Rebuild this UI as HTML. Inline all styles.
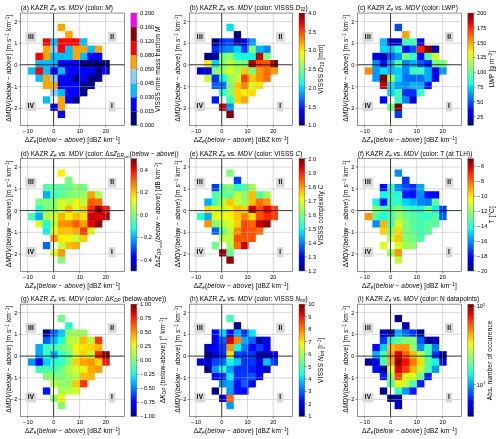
<!DOCTYPE html>
<html><head><meta charset="utf-8"><title>KAZR Ze vs MDV</title>
<style>html,body{margin:0;padding:0;background:#fff;}svg{display:block;will-change:transform;}text{font-family:"Liberation Sans",sans-serif;fill:#000;}.xl,.yl,.cl{letter-spacing:0.16px}.ttl{letter-spacing:0.04px}.ql{letter-spacing:0.3px}</style></head>
<body>
<svg width="500" height="439" viewBox="0 0 500 439" font-family="Liberation Sans, sans-serif">
<defs><linearGradient id="jet" x1="0" y1="1" x2="0" y2="0">
<stop offset="0.000" stop-color="#000080"/>
<stop offset="0.025" stop-color="#00009c"/>
<stop offset="0.050" stop-color="#0000b9"/>
<stop offset="0.075" stop-color="#0000d6"/>
<stop offset="0.100" stop-color="#0000f3"/>
<stop offset="0.125" stop-color="#0000ff"/>
<stop offset="0.150" stop-color="#0019ff"/>
<stop offset="0.175" stop-color="#0033ff"/>
<stop offset="0.200" stop-color="#004dff"/>
<stop offset="0.225" stop-color="#0066ff"/>
<stop offset="0.250" stop-color="#0080ff"/>
<stop offset="0.275" stop-color="#0099ff"/>
<stop offset="0.300" stop-color="#00b2ff"/>
<stop offset="0.325" stop-color="#00ccff"/>
<stop offset="0.350" stop-color="#00e5f7"/>
<stop offset="0.375" stop-color="#15ffe2"/>
<stop offset="0.400" stop-color="#29ffce"/>
<stop offset="0.425" stop-color="#3effb9"/>
<stop offset="0.450" stop-color="#52ffa5"/>
<stop offset="0.475" stop-color="#67ff90"/>
<stop offset="0.500" stop-color="#7bff7b"/>
<stop offset="0.525" stop-color="#90ff67"/>
<stop offset="0.550" stop-color="#a5ff52"/>
<stop offset="0.575" stop-color="#b9ff3e"/>
<stop offset="0.600" stop-color="#ceff29"/>
<stop offset="0.625" stop-color="#e2ff15"/>
<stop offset="0.650" stop-color="#f7f600"/>
<stop offset="0.675" stop-color="#ffde00"/>
<stop offset="0.700" stop-color="#ffc600"/>
<stop offset="0.725" stop-color="#ffaf00"/>
<stop offset="0.750" stop-color="#ff9700"/>
<stop offset="0.775" stop-color="#ff8000"/>
<stop offset="0.800" stop-color="#ff6800"/>
<stop offset="0.825" stop-color="#ff5000"/>
<stop offset="0.850" stop-color="#ff3900"/>
<stop offset="0.875" stop-color="#ff2100"/>
<stop offset="0.900" stop-color="#f30900"/>
<stop offset="0.925" stop-color="#d60000"/>
<stop offset="0.950" stop-color="#b90000"/>
<stop offset="0.975" stop-color="#9c0000"/>
<stop offset="1.000" stop-color="#800000"/>
</linearGradient></defs>
<rect width="500" height="439" fill="#fff"/>
<g>
<rect x="57.71" y="23.82" width="7.43" height="7.25" fill="#ffa500"/>
<rect x="65.14" y="31.07" width="7.43" height="7.75" fill="#ffa500"/>
<rect x="42.86" y="38.32" width="7.93" height="7.75" fill="#ff0000"/>
<rect x="50.28" y="38.32" width="7.93" height="7.75" fill="#00bfff"/>
<rect x="57.71" y="38.32" width="7.93" height="7.75" fill="#ff0000"/>
<rect x="65.14" y="38.32" width="7.93" height="7.75" fill="#ff0000"/>
<rect x="72.57" y="38.32" width="7.93" height="7.75" fill="#ff0000"/>
<rect x="80" y="38.32" width="7.43" height="7.75" fill="#00bfff"/>
<rect x="42.86" y="45.57" width="7.93" height="7.75" fill="#ffa500"/>
<rect x="50.28" y="45.57" width="7.93" height="7.75" fill="#87cefa"/>
<rect x="57.71" y="45.57" width="7.93" height="7.75" fill="#ff0000"/>
<rect x="65.14" y="45.57" width="7.93" height="7.75" fill="#00bfff"/>
<rect x="72.57" y="45.57" width="7.93" height="7.75" fill="#ffa500"/>
<rect x="80" y="45.57" width="7.93" height="7.75" fill="#ffa500"/>
<rect x="87.43" y="45.57" width="7.93" height="7.75" fill="#00bfff"/>
<rect x="94.86" y="45.57" width="7.43" height="7.75" fill="#ffa500"/>
<rect x="35.43" y="52.82" width="7.93" height="7.75" fill="#ff0000"/>
<rect x="42.86" y="52.82" width="7.93" height="7.75" fill="#ffa500"/>
<rect x="50.28" y="52.82" width="7.93" height="7.75" fill="#00bfff"/>
<rect x="57.71" y="52.82" width="7.93" height="7.75" fill="#00bfff"/>
<rect x="65.14" y="52.82" width="7.93" height="7.75" fill="#00bfff"/>
<rect x="72.57" y="52.82" width="7.93" height="7.75" fill="#ffa500"/>
<rect x="80" y="52.82" width="7.93" height="7.75" fill="#00bfff"/>
<rect x="87.43" y="52.82" width="7.93" height="7.75" fill="#0000ff"/>
<rect x="94.86" y="52.82" width="7.43" height="7.75" fill="#0000ff"/>
<rect x="35.43" y="60.07" width="7.93" height="7.75" fill="#00bfff"/>
<rect x="42.86" y="60.07" width="7.93" height="7.75" fill="#00bfff"/>
<rect x="50.28" y="60.07" width="7.93" height="7.75" fill="#00bfff"/>
<rect x="57.71" y="60.07" width="7.93" height="7.75" fill="#0000ff"/>
<rect x="65.14" y="60.07" width="7.93" height="7.75" fill="#0000ff"/>
<rect x="72.57" y="60.07" width="7.93" height="7.75" fill="#0000ff"/>
<rect x="80" y="60.07" width="7.93" height="7.75" fill="#000080"/>
<rect x="87.43" y="60.07" width="7.93" height="7.75" fill="#000080"/>
<rect x="94.86" y="60.07" width="7.93" height="7.75" fill="#000080"/>
<rect x="102.28" y="60.07" width="7.43" height="7.75" fill="#000080"/>
<rect x="28" y="67.32" width="7.93" height="7.25" fill="#00bfff"/>
<rect x="35.43" y="67.32" width="7.93" height="7.75" fill="#ff0000"/>
<rect x="42.86" y="67.32" width="7.93" height="7.75" fill="#00bfff"/>
<rect x="50.28" y="67.32" width="7.93" height="7.75" fill="#0000ff"/>
<rect x="57.71" y="67.32" width="7.93" height="7.75" fill="#00bfff"/>
<rect x="65.14" y="67.32" width="7.93" height="7.75" fill="#0000ff"/>
<rect x="72.57" y="67.32" width="7.93" height="7.75" fill="#0000ff"/>
<rect x="80" y="67.32" width="7.93" height="7.75" fill="#0000ff"/>
<rect x="87.43" y="67.32" width="7.93" height="7.75" fill="#0000ff"/>
<rect x="94.86" y="67.32" width="7.93" height="7.75" fill="#000080"/>
<rect x="102.28" y="67.32" width="7.43" height="7.25" fill="#0000ff"/>
<rect x="35.43" y="74.57" width="7.93" height="7.25" fill="#00bfff"/>
<rect x="42.86" y="74.57" width="7.93" height="7.75" fill="#ffa500"/>
<rect x="50.28" y="74.57" width="7.93" height="7.75" fill="#87cefa"/>
<rect x="57.71" y="74.57" width="7.93" height="7.75" fill="#0000ff"/>
<rect x="65.14" y="74.57" width="7.93" height="7.75" fill="#0000ff"/>
<rect x="72.57" y="74.57" width="7.93" height="7.75" fill="#000080"/>
<rect x="80" y="74.57" width="7.93" height="7.75" fill="#0000ff"/>
<rect x="87.43" y="74.57" width="7.93" height="7.75" fill="#000080"/>
<rect x="94.86" y="74.57" width="7.43" height="7.25" fill="#000080"/>
<rect x="42.86" y="81.82" width="7.93" height="7.25" fill="#ffa500"/>
<rect x="50.28" y="81.82" width="7.93" height="7.75" fill="#ffa500"/>
<rect x="57.71" y="81.82" width="7.93" height="7.75" fill="#0000ff"/>
<rect x="65.14" y="81.82" width="7.93" height="7.75" fill="#0000ff"/>
<rect x="72.57" y="81.82" width="7.93" height="7.75" fill="#0000ff"/>
<rect x="80" y="81.82" width="7.93" height="7.75" fill="#000080"/>
<rect x="87.43" y="81.82" width="7.43" height="7.25" fill="#000080"/>
<rect x="50.28" y="89.07" width="7.93" height="7.25" fill="#87cefa"/>
<rect x="57.71" y="89.07" width="7.93" height="7.75" fill="#00bfff"/>
<rect x="65.14" y="89.07" width="7.93" height="7.75" fill="#0000ff"/>
<rect x="72.57" y="89.07" width="7.93" height="7.75" fill="#0000ff"/>
<rect x="80" y="89.07" width="7.43" height="7.25" fill="#000080"/>
<rect x="42.86" y="96.32" width="7.43" height="7.25" fill="#00bfff"/>
<rect x="57.71" y="96.32" width="7.93" height="7.75" fill="#ffa500"/>
<rect x="65.14" y="96.32" width="7.93" height="7.25" fill="#0000ff"/>
<rect x="72.57" y="96.32" width="7.43" height="7.25" fill="#000080"/>
<rect x="50.28" y="103.57" width="7.93" height="7.25" fill="#0000ff"/>
<rect x="57.71" y="103.57" width="7.43" height="7.75" fill="#ffa500"/>
<rect x="57.71" y="110.82" width="7.43" height="7.25" fill="#0000ff"/>
<line x1="27.6" x2="27.6" y1="13.05" y2="125.32" stroke="#b0b0b0" stroke-width="0.48"/>
<line x1="79.6" x2="79.6" y1="13.05" y2="125.32" stroke="#b0b0b0" stroke-width="0.48"/>
<line x1="105.6" x2="105.6" y1="13.05" y2="125.32" stroke="#b0b0b0" stroke-width="0.48"/>
<line x1="20.57" x2="124.57" y1="108.39" y2="108.39" stroke="#b0b0b0" stroke-width="0.48"/>
<line x1="20.57" x2="124.57" y1="86.67" y2="86.67" stroke="#b0b0b0" stroke-width="0.48"/>
<line x1="20.57" x2="124.57" y1="43.23" y2="43.23" stroke="#b0b0b0" stroke-width="0.48"/>
<line x1="20.57" x2="124.57" y1="21.51" y2="21.51" stroke="#b0b0b0" stroke-width="0.48"/>
<rect x="25.52" y="31.9" width="10.7" height="9.9" fill="#d8d8d8"/>
<text x="31.02" y="38.65" font-size="6.4" font-weight="bold" text-anchor="middle" fill="#111" class="ql">III</text>
<rect x="107.92" y="31.9" width="8.5" height="9.9" fill="#d8d8d8"/>
<text x="112.32" y="38.65" font-size="6.4" font-weight="bold" text-anchor="middle" fill="#111" class="ql">II</text>
<rect x="25.52" y="101.35" width="10.7" height="9.9" fill="#d8d8d8"/>
<text x="31.02" y="108.1" font-size="6.4" font-weight="bold" text-anchor="middle" fill="#111" class="ql">IV</text>
<rect x="108.77" y="101.55" width="6.4" height="9.9" fill="#d8d8d8"/>
<text x="112.12" y="108.3" font-size="6.4" font-weight="bold" text-anchor="middle" fill="#111" class="ql">I</text>
<line x1="53.6" x2="53.6" y1="13.05" y2="125.32" stroke="#000" stroke-opacity="0.8" stroke-width="1.0"/>
<line x1="20.57" x2="124.57" y1="64.75" y2="64.75" stroke="#000" stroke-opacity="0.8" stroke-width="1.0"/>
<rect x="20.57" y="13.05" width="104" height="112.3" fill="none" stroke="#4a4a4a" stroke-width="0.6"/>
<line x1="27.6" x2="27.6" y1="125.32" y2="127.32" stroke="#222" stroke-width="0.5"/>
<text x="27.75" y="133.32" font-size="5.6" class="tk" text-anchor="middle"><tspan letter-spacing="0.7">&#8722;</tspan>10</text>
<line x1="53.6" x2="53.6" y1="125.32" y2="127.32" stroke="#222" stroke-width="0.5"/>
<text x="53.75" y="133.32" font-size="5.6" class="tk" text-anchor="middle">0</text>
<line x1="79.6" x2="79.6" y1="125.32" y2="127.32" stroke="#222" stroke-width="0.5"/>
<text x="79.75" y="133.32" font-size="5.6" class="tk" text-anchor="middle">10</text>
<line x1="105.6" x2="105.6" y1="125.32" y2="127.32" stroke="#222" stroke-width="0.5"/>
<text x="105.75" y="133.32" font-size="5.6" class="tk" text-anchor="middle">20</text>
<line x1="18.57" x2="20.57" y1="108.39" y2="108.39" stroke="#222" stroke-width="0.5"/>
<text x="17.37" y="110.39" font-size="5.6" class="tk" text-anchor="end"><tspan letter-spacing="0.7">&#8722;</tspan>2</text>
<line x1="18.57" x2="20.57" y1="86.67" y2="86.67" stroke="#222" stroke-width="0.5"/>
<text x="17.37" y="88.67" font-size="5.6" class="tk" text-anchor="end"><tspan letter-spacing="0.7">&#8722;</tspan>1</text>
<line x1="18.57" x2="20.57" y1="64.95" y2="64.95" stroke="#222" stroke-width="0.5"/>
<text x="17.37" y="66.95" font-size="5.6" class="tk" text-anchor="end">0</text>
<line x1="18.57" x2="20.57" y1="43.23" y2="43.23" stroke="#222" stroke-width="0.5"/>
<text x="17.37" y="45.23" font-size="5.6" class="tk" text-anchor="end">1</text>
<line x1="18.57" x2="20.57" y1="21.51" y2="21.51" stroke="#222" stroke-width="0.5"/>
<text x="17.37" y="23.51" font-size="5.6" class="tk" text-anchor="end">2</text>
<text class="xl" x="72.57" y="141.92" font-size="6.5" text-anchor="middle">&#916;<tspan font-style="italic">Z</tspan><tspan font-style="italic" font-size="70%" dy="1.2">e</tspan><tspan dy="-1.2">(</tspan><tspan font-style="italic">below &#8722; above</tspan>) [dBZ km<tspan font-size="70%" dy="-2">&#8722;1</tspan><tspan dy="2">]</tspan></text>
<text class="yl" transform="translate(10.87,68.09) rotate(-90)" font-size="6.5" text-anchor="middle">&#916;<tspan font-style="italic">MDV</tspan>(<tspan font-style="italic">below &#8722; above</tspan>) [m s<tspan font-size="70%" dy="-2">&#8722;1</tspan><tspan dy="2"> km</tspan><tspan font-size="70%" dy="-2">&#8722;1</tspan><tspan dy="2">]</tspan></text>
<text class="ttl" x="20.77" y="10.05" font-size="6.5">(a) KAZR <tspan font-style="italic">Z</tspan><tspan font-style="italic" font-size="70%" dy="1.2">e</tspan><tspan dy="-1.2"> vs. </tspan><tspan font-style="italic">MDV</tspan> (color: <tspan font-style="italic">M</tspan>)</text>
<rect x="130.92" y="111.29" width="5.7" height="14.08" fill="#000080"/>
<rect x="130.92" y="97.25" width="5.7" height="14.08" fill="#0000ff"/>
<rect x="130.92" y="83.22" width="5.7" height="14.08" fill="#00bfff"/>
<rect x="130.92" y="69.19" width="5.7" height="14.08" fill="#87cefa"/>
<rect x="130.92" y="55.15" width="5.7" height="14.08" fill="#ffa500"/>
<rect x="130.92" y="41.12" width="5.7" height="14.08" fill="#ff0000"/>
<rect x="130.92" y="27.08" width="5.7" height="14.08" fill="#8b0000"/>
<rect x="130.92" y="13.05" width="5.7" height="14.08" fill="#ff00ff"/>
<rect x="130.92" y="13.05" width="5.7" height="112.27" fill="none" stroke="#444" stroke-width="0.4"/>
<line x1="136.62" x2="138.62" y1="125.32" y2="125.32" stroke="#222" stroke-width="0.5"/>
<text class="tk" x="140.12" y="127.32" font-size="5.6">0.000</text>
<line x1="136.62" x2="138.62" y1="111.29" y2="111.29" stroke="#222" stroke-width="0.5"/>
<text class="tk" x="140.12" y="113.29" font-size="5.6">0.015</text>
<line x1="136.62" x2="138.62" y1="97.25" y2="97.25" stroke="#222" stroke-width="0.5"/>
<text class="tk" x="140.12" y="99.25" font-size="5.6">0.030</text>
<line x1="136.62" x2="138.62" y1="83.22" y2="83.22" stroke="#222" stroke-width="0.5"/>
<text class="tk" x="140.12" y="85.22" font-size="5.6">0.045</text>
<line x1="136.62" x2="138.62" y1="69.19" y2="69.19" stroke="#222" stroke-width="0.5"/>
<text class="tk" x="140.12" y="71.19" font-size="5.6">0.050</text>
<line x1="136.62" x2="138.62" y1="55.15" y2="55.15" stroke="#222" stroke-width="0.5"/>
<text class="tk" x="140.12" y="57.15" font-size="5.6">0.080</text>
<line x1="136.62" x2="138.62" y1="41.12" y2="41.12" stroke="#222" stroke-width="0.5"/>
<text class="tk" x="140.12" y="43.12" font-size="5.6">0.120</text>
<line x1="136.62" x2="138.62" y1="27.08" y2="27.08" stroke="#222" stroke-width="0.5"/>
<text class="tk" x="140.12" y="29.08" font-size="5.6">0.160</text>
<line x1="136.62" x2="138.62" y1="13.05" y2="13.05" stroke="#222" stroke-width="0.5"/>
<text class="tk" x="140.12" y="15.05" font-size="5.6">0.200</text>
<text class="cl" transform="translate(159.92,69.19) rotate(-90)" font-size="6.5" text-anchor="middle">VISSS rime mass fraction <tspan font-style="italic">M</tspan></text>
</g>
<g>
<rect x="226.39" y="23.82" width="7.36" height="7.25" fill="#00dffc"/>
<rect x="233.76" y="31.07" width="7.36" height="7.75" fill="#000080"/>
<rect x="211.66" y="38.32" width="7.86" height="7.75" fill="#000080"/>
<rect x="219.03" y="38.32" width="7.86" height="7.75" fill="#002bff"/>
<rect x="226.39" y="38.32" width="7.86" height="7.75" fill="#003fff"/>
<rect x="233.76" y="38.32" width="7.86" height="7.75" fill="#000096"/>
<rect x="241.12" y="38.32" width="7.86" height="7.75" fill="#0000e6"/>
<rect x="248.48" y="38.32" width="7.36" height="7.75" fill="#0099ff"/>
<rect x="211.66" y="45.57" width="7.86" height="7.75" fill="#002bff"/>
<rect x="219.03" y="45.57" width="7.86" height="7.75" fill="#007bff"/>
<rect x="226.39" y="45.57" width="7.86" height="7.75" fill="#0085ff"/>
<rect x="233.76" y="45.57" width="7.86" height="7.75" fill="#00d7ff"/>
<rect x="241.12" y="45.57" width="7.86" height="7.75" fill="#003fff"/>
<rect x="248.48" y="45.57" width="7.86" height="7.75" fill="#89ff6e"/>
<rect x="255.85" y="45.57" width="7.86" height="7.75" fill="#00b6ff"/>
<rect x="263.21" y="45.57" width="7.36" height="7.75" fill="#0085ff"/>
<rect x="204.3" y="52.82" width="7.86" height="7.75" fill="#000080"/>
<rect x="211.66" y="52.82" width="7.86" height="7.75" fill="#0000a2"/>
<rect x="219.03" y="52.82" width="7.86" height="7.75" fill="#73ff84"/>
<rect x="226.39" y="52.82" width="7.86" height="7.75" fill="#8fff68"/>
<rect x="233.76" y="52.82" width="7.86" height="7.75" fill="#21ffd5"/>
<rect x="241.12" y="52.82" width="7.86" height="7.75" fill="#12fce5"/>
<rect x="248.48" y="52.82" width="7.86" height="7.75" fill="#12fce5"/>
<rect x="255.85" y="52.82" width="7.86" height="7.75" fill="#c50000"/>
<rect x="263.21" y="52.82" width="7.36" height="7.75" fill="#7bff7c"/>
<rect x="204.3" y="60.07" width="7.86" height="7.75" fill="#feee00"/>
<rect x="211.66" y="60.07" width="7.86" height="7.75" fill="#00d7ff"/>
<rect x="219.03" y="60.07" width="7.86" height="7.75" fill="#82ff75"/>
<rect x="226.39" y="60.07" width="7.86" height="7.75" fill="#b7ff3f"/>
<rect x="233.76" y="60.07" width="7.86" height="7.75" fill="#8fff68"/>
<rect x="241.12" y="60.07" width="7.86" height="7.75" fill="#7bff7c"/>
<rect x="248.48" y="60.07" width="7.86" height="7.75" fill="#ae0000"/>
<rect x="255.85" y="60.07" width="7.86" height="7.75" fill="#ff4600"/>
<rect x="263.21" y="60.07" width="7.86" height="7.75" fill="#ff5000"/>
<rect x="270.58" y="60.07" width="7.36" height="7.75" fill="#800000"/>
<rect x="196.93" y="67.32" width="7.86" height="7.25" fill="#0000c4"/>
<rect x="204.3" y="67.32" width="7.86" height="7.75" fill="#0000e6"/>
<rect x="211.66" y="67.32" width="7.86" height="7.75" fill="#82ff75"/>
<rect x="219.03" y="67.32" width="7.86" height="7.75" fill="#99ff5e"/>
<rect x="226.39" y="67.32" width="7.86" height="7.75" fill="#d1ff26"/>
<rect x="233.76" y="67.32" width="7.86" height="7.75" fill="#a3ff54"/>
<rect x="241.12" y="67.32" width="7.86" height="7.75" fill="#ffc800"/>
<rect x="248.48" y="67.32" width="7.86" height="7.75" fill="#7bff7c"/>
<rect x="255.85" y="67.32" width="7.86" height="7.75" fill="#ff9600"/>
<rect x="263.21" y="67.32" width="7.86" height="7.75" fill="#ff6e00"/>
<rect x="270.58" y="67.32" width="7.36" height="7.25" fill="#ff9600"/>
<rect x="204.3" y="74.57" width="7.86" height="7.25" fill="#c5ff31"/>
<rect x="211.66" y="74.57" width="7.86" height="7.75" fill="#002bff"/>
<rect x="219.03" y="74.57" width="7.86" height="7.75" fill="#12fce5"/>
<rect x="226.39" y="74.57" width="7.86" height="7.75" fill="#8fff68"/>
<rect x="233.76" y="74.57" width="7.86" height="7.75" fill="#beff38"/>
<rect x="241.12" y="74.57" width="7.86" height="7.75" fill="#ff3c00"/>
<rect x="248.48" y="74.57" width="7.86" height="7.75" fill="#ffc800"/>
<rect x="255.85" y="74.57" width="7.86" height="7.75" fill="#ff9600"/>
<rect x="263.21" y="74.57" width="7.36" height="7.25" fill="#ff6e00"/>
<rect x="211.66" y="81.82" width="7.86" height="7.25" fill="#005dff"/>
<rect x="219.03" y="81.82" width="7.86" height="7.75" fill="#0071ff"/>
<rect x="226.39" y="81.82" width="7.86" height="7.75" fill="#82ff75"/>
<rect x="233.76" y="81.82" width="7.86" height="7.75" fill="#ffc800"/>
<rect x="241.12" y="81.82" width="7.86" height="7.75" fill="#ff8200"/>
<rect x="248.48" y="81.82" width="7.86" height="7.75" fill="#dcff1a"/>
<rect x="255.85" y="81.82" width="7.36" height="7.25" fill="#ffe500"/>
<rect x="219.03" y="89.07" width="7.86" height="7.25" fill="#29ffce"/>
<rect x="226.39" y="89.07" width="7.86" height="7.75" fill="#82ff75"/>
<rect x="233.76" y="89.07" width="7.86" height="7.75" fill="#ffd200"/>
<rect x="241.12" y="89.07" width="7.86" height="7.75" fill="#feee00"/>
<rect x="248.48" y="89.07" width="7.36" height="7.25" fill="#ffdc00"/>
<rect x="211.66" y="96.32" width="7.36" height="7.25" fill="#0017ff"/>
<rect x="226.39" y="96.32" width="7.86" height="7.75" fill="#29ffce"/>
<rect x="233.76" y="96.32" width="7.86" height="7.25" fill="#ffd200"/>
<rect x="241.12" y="96.32" width="7.36" height="7.25" fill="#ffaa00"/>
<rect x="219.03" y="103.57" width="7.86" height="7.25" fill="#c50000"/>
<rect x="226.39" y="103.57" width="7.36" height="7.75" fill="#008fff"/>
<rect x="226.39" y="110.82" width="7.36" height="7.25" fill="#800000"/>
<line x1="195.97" x2="195.97" y1="13.05" y2="125.32" stroke="#b0b0b0" stroke-width="0.48"/>
<line x1="247.47" x2="247.47" y1="13.05" y2="125.32" stroke="#b0b0b0" stroke-width="0.48"/>
<line x1="273.22" x2="273.22" y1="13.05" y2="125.32" stroke="#b0b0b0" stroke-width="0.48"/>
<line x1="189.57" x2="292.67" y1="108.39" y2="108.39" stroke="#b0b0b0" stroke-width="0.48"/>
<line x1="189.57" x2="292.67" y1="86.67" y2="86.67" stroke="#b0b0b0" stroke-width="0.48"/>
<line x1="189.57" x2="292.67" y1="43.23" y2="43.23" stroke="#b0b0b0" stroke-width="0.48"/>
<line x1="189.57" x2="292.67" y1="21.51" y2="21.51" stroke="#b0b0b0" stroke-width="0.48"/>
<rect x="194.43" y="31.9" width="10.7" height="9.9" fill="#d8d8d8"/>
<text x="199.93" y="38.65" font-size="6.4" font-weight="bold" text-anchor="middle" fill="#111" class="ql">III</text>
<rect x="276.13" y="31.9" width="8.5" height="9.9" fill="#d8d8d8"/>
<text x="280.53" y="38.65" font-size="6.4" font-weight="bold" text-anchor="middle" fill="#111" class="ql">II</text>
<rect x="194.43" y="101.35" width="10.7" height="9.9" fill="#d8d8d8"/>
<text x="199.93" y="108.1" font-size="6.4" font-weight="bold" text-anchor="middle" fill="#111" class="ql">IV</text>
<rect x="276.98" y="101.55" width="6.4" height="9.9" fill="#d8d8d8"/>
<text x="280.33" y="108.3" font-size="6.4" font-weight="bold" text-anchor="middle" fill="#111" class="ql">I</text>
<line x1="221.72" x2="221.72" y1="13.05" y2="125.32" stroke="#000" stroke-opacity="0.8" stroke-width="1.0"/>
<line x1="189.57" x2="292.67" y1="64.75" y2="64.75" stroke="#000" stroke-opacity="0.8" stroke-width="1.0"/>
<rect x="189.57" y="13.05" width="103.1" height="112.3" fill="none" stroke="#4a4a4a" stroke-width="0.6"/>
<line x1="195.97" x2="195.97" y1="125.32" y2="127.32" stroke="#222" stroke-width="0.5"/>
<text x="196.12" y="133.32" font-size="5.6" class="tk" text-anchor="middle"><tspan letter-spacing="0.7">&#8722;</tspan>10</text>
<line x1="221.72" x2="221.72" y1="125.32" y2="127.32" stroke="#222" stroke-width="0.5"/>
<text x="221.87" y="133.32" font-size="5.6" class="tk" text-anchor="middle">0</text>
<line x1="247.47" x2="247.47" y1="125.32" y2="127.32" stroke="#222" stroke-width="0.5"/>
<text x="247.62" y="133.32" font-size="5.6" class="tk" text-anchor="middle">10</text>
<line x1="273.22" x2="273.22" y1="125.32" y2="127.32" stroke="#222" stroke-width="0.5"/>
<text x="273.37" y="133.32" font-size="5.6" class="tk" text-anchor="middle">20</text>
<line x1="187.57" x2="189.57" y1="108.39" y2="108.39" stroke="#222" stroke-width="0.5"/>
<text x="186.37" y="110.39" font-size="5.6" class="tk" text-anchor="end"><tspan letter-spacing="0.7">&#8722;</tspan>2</text>
<line x1="187.57" x2="189.57" y1="86.67" y2="86.67" stroke="#222" stroke-width="0.5"/>
<text x="186.37" y="88.67" font-size="5.6" class="tk" text-anchor="end"><tspan letter-spacing="0.7">&#8722;</tspan>1</text>
<line x1="187.57" x2="189.57" y1="64.95" y2="64.95" stroke="#222" stroke-width="0.5"/>
<text x="186.37" y="66.95" font-size="5.6" class="tk" text-anchor="end">0</text>
<line x1="187.57" x2="189.57" y1="43.23" y2="43.23" stroke="#222" stroke-width="0.5"/>
<text x="186.37" y="45.23" font-size="5.6" class="tk" text-anchor="end">1</text>
<line x1="187.57" x2="189.57" y1="21.51" y2="21.51" stroke="#222" stroke-width="0.5"/>
<text x="186.37" y="23.51" font-size="5.6" class="tk" text-anchor="end">2</text>
<text class="xl" x="241.12" y="141.92" font-size="6.5" text-anchor="middle">&#916;<tspan font-style="italic">Z</tspan><tspan font-style="italic" font-size="70%" dy="1.2">e</tspan><tspan dy="-1.2">(</tspan><tspan font-style="italic">below &#8722; above</tspan>) [dBZ km<tspan font-size="70%" dy="-2">&#8722;1</tspan><tspan dy="2">]</tspan></text>
<text class="yl" transform="translate(179.87,68.09) rotate(-90)" font-size="6.5" text-anchor="middle">&#916;<tspan font-style="italic">MDV</tspan>(<tspan font-style="italic">below &#8722; above</tspan>) [m s<tspan font-size="70%" dy="-2">&#8722;1</tspan><tspan dy="2"> km</tspan><tspan font-size="70%" dy="-2">&#8722;1</tspan><tspan dy="2">]</tspan></text>
<text class="ttl" x="189.77" y="10.05" font-size="6.5">(b) KAZR <tspan font-style="italic">Z</tspan><tspan font-style="italic" font-size="70%" dy="1.2">e</tspan><tspan dy="-1.2"> vs. </tspan><tspan font-style="italic">MDV</tspan> (color: VISSS <tspan font-style="italic">D</tspan><tspan font-size="70%" dy="1.2">32</tspan><tspan dy="-1.2">)</tspan></text>
<rect x="299.02" y="13.05" width="5.7" height="112.27" fill="url(#jet)"/>
<rect x="299.02" y="13.05" width="5.7" height="112.27" fill="none" stroke="#444" stroke-width="0.4"/>
<line x1="304.72" x2="306.72" y1="125.32" y2="125.32" stroke="#222" stroke-width="0.5"/>
<text class="tk" x="308.22" y="127.32" font-size="5.6">1.0</text>
<line x1="304.72" x2="306.72" y1="106.61" y2="106.61" stroke="#222" stroke-width="0.5"/>
<text class="tk" x="308.22" y="108.61" font-size="5.6">1.5</text>
<line x1="304.72" x2="306.72" y1="87.9" y2="87.9" stroke="#222" stroke-width="0.5"/>
<text class="tk" x="308.22" y="89.9" font-size="5.6">2.0</text>
<line x1="304.72" x2="306.72" y1="69.19" y2="69.19" stroke="#222" stroke-width="0.5"/>
<text class="tk" x="308.22" y="71.19" font-size="5.6">2.5</text>
<line x1="304.72" x2="306.72" y1="50.47" y2="50.47" stroke="#222" stroke-width="0.5"/>
<text class="tk" x="308.22" y="52.47" font-size="5.6">3.0</text>
<line x1="304.72" x2="306.72" y1="31.76" y2="31.76" stroke="#222" stroke-width="0.5"/>
<text class="tk" x="308.22" y="33.76" font-size="5.6">3.5</text>
<line x1="304.72" x2="306.72" y1="13.05" y2="13.05" stroke="#222" stroke-width="0.5"/>
<text class="tk" x="308.22" y="15.05" font-size="5.6">4.0</text>
<text class="cl" transform="translate(322.92,69.19) rotate(-90)" font-size="6.5" text-anchor="middle">VISSS <tspan font-style="italic">D</tspan><tspan font-size="70%" dy="1.2">32</tspan><tspan dy="-1.2"> [mm]</tspan></text>
</g>
<g>
<rect x="394.64" y="23.82" width="7.43" height="7.25" fill="#0049ff"/>
<rect x="402.07" y="31.07" width="7.43" height="7.75" fill="#ffa000"/>
<rect x="379.79" y="38.32" width="7.93" height="7.75" fill="#00beff"/>
<rect x="387.21" y="38.32" width="7.93" height="7.75" fill="#0000db"/>
<rect x="394.64" y="38.32" width="7.93" height="7.75" fill="#0000b8"/>
<rect x="402.07" y="38.32" width="7.93" height="7.75" fill="#3effb9"/>
<rect x="409.5" y="38.32" width="7.93" height="7.75" fill="#3effb9"/>
<rect x="416.93" y="38.32" width="7.43" height="7.75" fill="#0000f1"/>
<rect x="379.79" y="45.57" width="7.93" height="7.75" fill="#00d7ff"/>
<rect x="387.21" y="45.57" width="7.93" height="7.75" fill="#00c6ff"/>
<rect x="394.64" y="45.57" width="7.93" height="7.75" fill="#29ffce"/>
<rect x="402.07" y="45.57" width="7.93" height="7.75" fill="#0003ff"/>
<rect x="409.5" y="45.57" width="7.93" height="7.75" fill="#0053ff"/>
<rect x="416.93" y="45.57" width="7.93" height="7.75" fill="#ff1e00"/>
<rect x="424.36" y="45.57" width="7.93" height="7.75" fill="#800000"/>
<rect x="431.79" y="45.57" width="7.43" height="7.75" fill="#0000b8"/>
<rect x="372.36" y="52.82" width="7.93" height="7.75" fill="#0000e6"/>
<rect x="379.79" y="52.82" width="7.93" height="7.75" fill="#0000ad"/>
<rect x="387.21" y="52.82" width="7.93" height="7.75" fill="#005dff"/>
<rect x="394.64" y="52.82" width="7.93" height="7.75" fill="#0099ff"/>
<rect x="402.07" y="52.82" width="7.93" height="7.75" fill="#73ff84"/>
<rect x="409.5" y="52.82" width="7.93" height="7.75" fill="#30ffc7"/>
<rect x="416.93" y="52.82" width="7.93" height="7.75" fill="#0000fd"/>
<rect x="424.36" y="52.82" width="7.93" height="7.75" fill="#44ffb3"/>
<rect x="431.79" y="52.82" width="7.43" height="7.75" fill="#d1ff26"/>
<rect x="372.36" y="60.07" width="7.93" height="7.75" fill="#008fff"/>
<rect x="379.79" y="60.07" width="7.93" height="7.75" fill="#000dff"/>
<rect x="387.21" y="60.07" width="7.93" height="7.75" fill="#00b6ff"/>
<rect x="394.64" y="60.07" width="7.93" height="7.75" fill="#56ffa0"/>
<rect x="402.07" y="60.07" width="7.93" height="7.75" fill="#0085ff"/>
<rect x="409.5" y="60.07" width="7.93" height="7.75" fill="#00adff"/>
<rect x="416.93" y="60.07" width="7.93" height="7.75" fill="#005dff"/>
<rect x="424.36" y="60.07" width="7.93" height="7.75" fill="#0021ff"/>
<rect x="431.79" y="60.07" width="7.93" height="7.75" fill="#73ff84"/>
<rect x="439.21" y="60.07" width="7.43" height="7.75" fill="#7bff7c"/>
<rect x="364.93" y="67.32" width="7.93" height="7.25" fill="#ff8c00"/>
<rect x="372.36" y="67.32" width="7.93" height="7.75" fill="#0099ff"/>
<rect x="379.79" y="67.32" width="7.93" height="7.75" fill="#00dffc"/>
<rect x="387.21" y="67.32" width="7.93" height="7.75" fill="#00b6ff"/>
<rect x="394.64" y="67.32" width="7.93" height="7.75" fill="#00cfff"/>
<rect x="402.07" y="67.32" width="7.93" height="7.75" fill="#0085ff"/>
<rect x="409.5" y="67.32" width="7.93" height="7.75" fill="#37ffc0"/>
<rect x="416.93" y="67.32" width="7.93" height="7.75" fill="#37ffc0"/>
<rect x="424.36" y="67.32" width="7.93" height="7.75" fill="#00adff"/>
<rect x="431.79" y="67.32" width="7.93" height="7.75" fill="#0000f1"/>
<rect x="439.21" y="67.32" width="7.43" height="7.25" fill="#0099ff"/>
<rect x="372.36" y="74.57" width="7.93" height="7.25" fill="#0099ff"/>
<rect x="379.79" y="74.57" width="7.93" height="7.75" fill="#800000"/>
<rect x="387.21" y="74.57" width="7.93" height="7.75" fill="#a3ff54"/>
<rect x="394.64" y="74.57" width="7.93" height="7.75" fill="#00dffc"/>
<rect x="402.07" y="74.57" width="7.93" height="7.75" fill="#0071ff"/>
<rect x="409.5" y="74.57" width="7.93" height="7.75" fill="#0067ff"/>
<rect x="416.93" y="74.57" width="7.93" height="7.75" fill="#0071ff"/>
<rect x="424.36" y="74.57" width="7.93" height="7.75" fill="#00adff"/>
<rect x="431.79" y="74.57" width="7.43" height="7.25" fill="#0000f1"/>
<rect x="379.79" y="81.82" width="7.93" height="7.25" fill="#c50000"/>
<rect x="387.21" y="81.82" width="7.93" height="7.75" fill="#00dffc"/>
<rect x="394.64" y="81.82" width="7.93" height="7.75" fill="#0099ff"/>
<rect x="402.07" y="81.82" width="7.93" height="7.75" fill="#008fff"/>
<rect x="409.5" y="81.82" width="7.93" height="7.75" fill="#00b6ff"/>
<rect x="416.93" y="81.82" width="7.93" height="7.75" fill="#00adff"/>
<rect x="424.36" y="81.82" width="7.43" height="7.25" fill="#000dff"/>
<rect x="387.21" y="89.07" width="7.93" height="7.25" fill="#00dffc"/>
<rect x="394.64" y="89.07" width="7.93" height="7.75" fill="#3effb9"/>
<rect x="402.07" y="89.07" width="7.93" height="7.75" fill="#002bff"/>
<rect x="409.5" y="89.07" width="7.93" height="7.75" fill="#002bff"/>
<rect x="416.93" y="89.07" width="7.43" height="7.25" fill="#37ffc0"/>
<rect x="379.79" y="96.32" width="7.43" height="7.25" fill="#0000fd"/>
<rect x="394.64" y="96.32" width="7.93" height="7.75" fill="#37ffc0"/>
<rect x="402.07" y="96.32" width="7.93" height="7.25" fill="#0085ff"/>
<rect x="409.5" y="96.32" width="7.43" height="7.25" fill="#0000cf"/>
<rect x="387.21" y="103.57" width="7.93" height="7.25" fill="#6aff8d"/>
<rect x="394.64" y="103.57" width="7.43" height="7.75" fill="#800000"/>
<rect x="394.64" y="110.82" width="7.43" height="7.25" fill="#003fff"/>
<line x1="364.55" x2="364.55" y1="13.05" y2="125.32" stroke="#b0b0b0" stroke-width="0.48"/>
<line x1="416.55" x2="416.55" y1="13.05" y2="125.32" stroke="#b0b0b0" stroke-width="0.48"/>
<line x1="442.55" x2="442.55" y1="13.05" y2="125.32" stroke="#b0b0b0" stroke-width="0.48"/>
<line x1="357.5" x2="461.5" y1="108.39" y2="108.39" stroke="#b0b0b0" stroke-width="0.48"/>
<line x1="357.5" x2="461.5" y1="86.67" y2="86.67" stroke="#b0b0b0" stroke-width="0.48"/>
<line x1="357.5" x2="461.5" y1="43.23" y2="43.23" stroke="#b0b0b0" stroke-width="0.48"/>
<line x1="357.5" x2="461.5" y1="21.51" y2="21.51" stroke="#b0b0b0" stroke-width="0.48"/>
<rect x="362.45" y="31.9" width="10.7" height="9.9" fill="#d8d8d8"/>
<text x="367.95" y="38.65" font-size="6.4" font-weight="bold" text-anchor="middle" fill="#111" class="ql">III</text>
<rect x="444.85" y="31.9" width="8.5" height="9.9" fill="#d8d8d8"/>
<text x="449.25" y="38.65" font-size="6.4" font-weight="bold" text-anchor="middle" fill="#111" class="ql">II</text>
<rect x="362.45" y="101.35" width="10.7" height="9.9" fill="#d8d8d8"/>
<text x="367.95" y="108.1" font-size="6.4" font-weight="bold" text-anchor="middle" fill="#111" class="ql">IV</text>
<rect x="445.7" y="101.55" width="6.4" height="9.9" fill="#d8d8d8"/>
<text x="449.05" y="108.3" font-size="6.4" font-weight="bold" text-anchor="middle" fill="#111" class="ql">I</text>
<line x1="390.55" x2="390.55" y1="13.05" y2="125.32" stroke="#000" stroke-opacity="0.8" stroke-width="1.0"/>
<line x1="357.5" x2="461.5" y1="64.75" y2="64.75" stroke="#000" stroke-opacity="0.8" stroke-width="1.0"/>
<rect x="357.5" y="13.05" width="104" height="112.3" fill="none" stroke="#4a4a4a" stroke-width="0.6"/>
<line x1="364.55" x2="364.55" y1="125.32" y2="127.32" stroke="#222" stroke-width="0.5"/>
<text x="364.7" y="133.32" font-size="5.6" class="tk" text-anchor="middle"><tspan letter-spacing="0.7">&#8722;</tspan>10</text>
<line x1="390.55" x2="390.55" y1="125.32" y2="127.32" stroke="#222" stroke-width="0.5"/>
<text x="390.7" y="133.32" font-size="5.6" class="tk" text-anchor="middle">0</text>
<line x1="416.55" x2="416.55" y1="125.32" y2="127.32" stroke="#222" stroke-width="0.5"/>
<text x="416.7" y="133.32" font-size="5.6" class="tk" text-anchor="middle">10</text>
<line x1="442.55" x2="442.55" y1="125.32" y2="127.32" stroke="#222" stroke-width="0.5"/>
<text x="442.7" y="133.32" font-size="5.6" class="tk" text-anchor="middle">20</text>
<line x1="355.5" x2="357.5" y1="108.39" y2="108.39" stroke="#222" stroke-width="0.5"/>
<text x="354.3" y="110.39" font-size="5.6" class="tk" text-anchor="end"><tspan letter-spacing="0.7">&#8722;</tspan>2</text>
<line x1="355.5" x2="357.5" y1="86.67" y2="86.67" stroke="#222" stroke-width="0.5"/>
<text x="354.3" y="88.67" font-size="5.6" class="tk" text-anchor="end"><tspan letter-spacing="0.7">&#8722;</tspan>1</text>
<line x1="355.5" x2="357.5" y1="64.95" y2="64.95" stroke="#222" stroke-width="0.5"/>
<text x="354.3" y="66.95" font-size="5.6" class="tk" text-anchor="end">0</text>
<line x1="355.5" x2="357.5" y1="43.23" y2="43.23" stroke="#222" stroke-width="0.5"/>
<text x="354.3" y="45.23" font-size="5.6" class="tk" text-anchor="end">1</text>
<line x1="355.5" x2="357.5" y1="21.51" y2="21.51" stroke="#222" stroke-width="0.5"/>
<text x="354.3" y="23.51" font-size="5.6" class="tk" text-anchor="end">2</text>
<text class="xl" x="409.5" y="141.92" font-size="6.5" text-anchor="middle">&#916;<tspan font-style="italic">Z</tspan><tspan font-style="italic" font-size="70%" dy="1.2">e</tspan><tspan dy="-1.2">(</tspan><tspan font-style="italic">below &#8722; above</tspan>) [dBZ km<tspan font-size="70%" dy="-2">&#8722;1</tspan><tspan dy="2">]</tspan></text>
<text class="yl" transform="translate(347.8,68.09) rotate(-90)" font-size="6.5" text-anchor="middle">&#916;<tspan font-style="italic">MDV</tspan>(<tspan font-style="italic">below &#8722; above</tspan>) [m s<tspan font-size="70%" dy="-2">&#8722;1</tspan><tspan dy="2"> km</tspan><tspan font-size="70%" dy="-2">&#8722;1</tspan><tspan dy="2">]</tspan></text>
<text class="ttl" x="357.7" y="10.05" font-size="6.5">(c) KAZR <tspan font-style="italic">Z</tspan><tspan font-style="italic" font-size="70%" dy="1.2">e</tspan><tspan dy="-1.2"> vs. </tspan><tspan font-style="italic">MDV</tspan> (color: LWP)</text>
<rect x="467.85" y="13.05" width="5.7" height="112.27" fill="url(#jet)"/>
<rect x="467.85" y="13.05" width="5.7" height="112.27" fill="none" stroke="#444" stroke-width="0.4"/>
<line x1="473.55" x2="475.55" y1="116.67" y2="116.67" stroke="#222" stroke-width="0.5"/>
<text class="tk" x="477.05" y="118.67" font-size="5.6">25</text>
<line x1="473.55" x2="475.55" y1="101.87" y2="101.87" stroke="#222" stroke-width="0.5"/>
<text class="tk" x="477.05" y="103.87" font-size="5.6">50</text>
<line x1="473.55" x2="475.55" y1="87.07" y2="87.07" stroke="#222" stroke-width="0.5"/>
<text class="tk" x="477.05" y="89.07" font-size="5.6">75</text>
<line x1="473.55" x2="475.55" y1="72.26" y2="72.26" stroke="#222" stroke-width="0.5"/>
<text class="tk" x="477.05" y="74.26" font-size="5.6">100</text>
<line x1="473.55" x2="475.55" y1="57.46" y2="57.46" stroke="#222" stroke-width="0.5"/>
<text class="tk" x="477.05" y="59.46" font-size="5.6">125</text>
<line x1="473.55" x2="475.55" y1="42.66" y2="42.66" stroke="#222" stroke-width="0.5"/>
<text class="tk" x="477.05" y="44.66" font-size="5.6">150</text>
<line x1="473.55" x2="475.55" y1="27.85" y2="27.85" stroke="#222" stroke-width="0.5"/>
<text class="tk" x="477.05" y="29.85" font-size="5.6">175</text>
<line x1="473.55" x2="475.55" y1="13.05" y2="13.05" stroke="#222" stroke-width="0.5"/>
<text class="tk" x="477.05" y="15.05" font-size="5.6">200</text>
<text class="cl" transform="translate(494.15,69.19) rotate(-90)" font-size="6.5" text-anchor="middle">LWP [g m<tspan font-size="70%" dy="-2">&#8722;2</tspan><tspan dy="2">]</tspan></text>
</g>
<g>
<rect x="57.71" y="169.47" width="7.43" height="7.25" fill="#feee00"/>
<rect x="65.14" y="176.72" width="7.43" height="7.75" fill="#7bff7c"/>
<rect x="42.86" y="183.97" width="7.93" height="7.75" fill="#50ffa7"/>
<rect x="50.28" y="183.97" width="7.93" height="7.75" fill="#50ffa7"/>
<rect x="57.71" y="183.97" width="7.93" height="7.75" fill="#56ffa0"/>
<rect x="65.14" y="183.97" width="7.93" height="7.75" fill="#6aff8d"/>
<rect x="72.57" y="183.97" width="7.93" height="7.75" fill="#8fff68"/>
<rect x="80" y="183.97" width="7.43" height="7.75" fill="#73ff84"/>
<rect x="42.86" y="191.22" width="7.93" height="7.75" fill="#00adff"/>
<rect x="50.28" y="191.22" width="7.93" height="7.75" fill="#44ffb3"/>
<rect x="57.71" y="191.22" width="7.93" height="7.75" fill="#56ffa0"/>
<rect x="65.14" y="191.22" width="7.93" height="7.75" fill="#82ff75"/>
<rect x="72.57" y="191.22" width="7.93" height="7.75" fill="#82ff75"/>
<rect x="80" y="191.22" width="7.93" height="7.75" fill="#99ff5e"/>
<rect x="87.43" y="191.22" width="7.93" height="7.75" fill="#ffa000"/>
<rect x="94.86" y="191.22" width="7.43" height="7.75" fill="#a3ff54"/>
<rect x="35.43" y="198.47" width="7.93" height="7.75" fill="#7bff7c"/>
<rect x="42.86" y="198.47" width="7.93" height="7.75" fill="#7bff7c"/>
<rect x="50.28" y="198.47" width="7.93" height="7.75" fill="#89ff6e"/>
<rect x="57.71" y="198.47" width="7.93" height="7.75" fill="#dcff1a"/>
<rect x="65.14" y="198.47" width="7.93" height="7.75" fill="#b7ff3f"/>
<rect x="72.57" y="198.47" width="7.93" height="7.75" fill="#f7f600"/>
<rect x="80" y="198.47" width="7.93" height="7.75" fill="#beff38"/>
<rect x="87.43" y="198.47" width="7.93" height="7.75" fill="#ff5a00"/>
<rect x="94.86" y="198.47" width="7.43" height="7.75" fill="#ff6e00"/>
<rect x="35.43" y="205.72" width="7.93" height="7.75" fill="#1affdd"/>
<rect x="42.86" y="205.72" width="7.93" height="7.75" fill="#82ff75"/>
<rect x="50.28" y="205.72" width="7.93" height="7.75" fill="#8fff68"/>
<rect x="57.71" y="205.72" width="7.93" height="7.75" fill="#c5ff31"/>
<rect x="65.14" y="205.72" width="7.93" height="7.75" fill="#ffbe00"/>
<rect x="72.57" y="205.72" width="7.93" height="7.75" fill="#dcff1a"/>
<rect x="80" y="205.72" width="7.93" height="7.75" fill="#ffd200"/>
<rect x="87.43" y="205.72" width="7.93" height="7.75" fill="#ff2800"/>
<rect x="94.86" y="205.72" width="7.93" height="7.75" fill="#8b0000"/>
<rect x="102.28" y="205.72" width="7.43" height="7.75" fill="#ff1400"/>
<rect x="28" y="212.97" width="7.93" height="7.25" fill="#44ffb3"/>
<rect x="35.43" y="212.97" width="7.93" height="7.75" fill="#00adff"/>
<rect x="42.86" y="212.97" width="7.93" height="7.75" fill="#b7ff3f"/>
<rect x="50.28" y="212.97" width="7.93" height="7.75" fill="#d1ff26"/>
<rect x="57.71" y="212.97" width="7.93" height="7.75" fill="#ffb400"/>
<rect x="65.14" y="212.97" width="7.93" height="7.75" fill="#feee00"/>
<rect x="72.57" y="212.97" width="7.93" height="7.75" fill="#ffbe00"/>
<rect x="80" y="212.97" width="7.93" height="7.75" fill="#ffe500"/>
<rect x="87.43" y="212.97" width="7.93" height="7.75" fill="#c50000"/>
<rect x="94.86" y="212.97" width="7.93" height="7.75" fill="#dc0000"/>
<rect x="102.28" y="212.97" width="7.43" height="7.25" fill="#ae0000"/>
<rect x="35.43" y="220.22" width="7.93" height="7.25" fill="#d1ff26"/>
<rect x="42.86" y="220.22" width="7.93" height="7.75" fill="#1affdd"/>
<rect x="50.28" y="220.22" width="7.93" height="7.75" fill="#beff38"/>
<rect x="57.71" y="220.22" width="7.93" height="7.75" fill="#ff9600"/>
<rect x="65.14" y="220.22" width="7.93" height="7.75" fill="#ff8c00"/>
<rect x="72.57" y="220.22" width="7.93" height="7.75" fill="#ff5a00"/>
<rect x="80" y="220.22" width="7.93" height="7.75" fill="#ffa000"/>
<rect x="87.43" y="220.22" width="7.93" height="7.75" fill="#e80000"/>
<rect x="94.86" y="220.22" width="7.43" height="7.25" fill="#8b0000"/>
<rect x="42.86" y="227.47" width="7.93" height="7.25" fill="#0cf5eb"/>
<rect x="50.28" y="227.47" width="7.93" height="7.75" fill="#eaff0d"/>
<rect x="57.71" y="227.47" width="7.93" height="7.75" fill="#ffbe00"/>
<rect x="65.14" y="227.47" width="7.93" height="7.75" fill="#ffc800"/>
<rect x="72.57" y="227.47" width="7.93" height="7.75" fill="#ffaa00"/>
<rect x="80" y="227.47" width="7.93" height="7.75" fill="#ff3200"/>
<rect x="87.43" y="227.47" width="7.43" height="7.25" fill="#dcff1a"/>
<rect x="50.28" y="234.72" width="7.93" height="7.25" fill="#ff9600"/>
<rect x="57.71" y="234.72" width="7.93" height="7.75" fill="#feee00"/>
<rect x="65.14" y="234.72" width="7.93" height="7.75" fill="#f7f600"/>
<rect x="72.57" y="234.72" width="7.93" height="7.75" fill="#c5ff31"/>
<rect x="80" y="234.72" width="7.43" height="7.25" fill="#ffd200"/>
<rect x="42.86" y="241.97" width="7.43" height="7.25" fill="#0067ff"/>
<rect x="57.71" y="241.97" width="7.93" height="7.75" fill="#beff38"/>
<rect x="65.14" y="241.97" width="7.93" height="7.25" fill="#ffbe00"/>
<rect x="72.57" y="241.97" width="7.43" height="7.25" fill="#ffaa00"/>
<rect x="50.28" y="249.22" width="7.93" height="7.25" fill="#dcff1a"/>
<rect x="57.71" y="249.22" width="7.43" height="7.75" fill="#ff9600"/>
<rect x="57.71" y="256.47" width="7.43" height="7.25" fill="#82ff75"/>
<line x1="27.6" x2="27.6" y1="158.7" y2="270.97" stroke="#b0b0b0" stroke-width="0.48"/>
<line x1="79.6" x2="79.6" y1="158.7" y2="270.97" stroke="#b0b0b0" stroke-width="0.48"/>
<line x1="105.6" x2="105.6" y1="158.7" y2="270.97" stroke="#b0b0b0" stroke-width="0.48"/>
<line x1="20.57" x2="124.57" y1="254.04" y2="254.04" stroke="#b0b0b0" stroke-width="0.48"/>
<line x1="20.57" x2="124.57" y1="232.32" y2="232.32" stroke="#b0b0b0" stroke-width="0.48"/>
<line x1="20.57" x2="124.57" y1="188.88" y2="188.88" stroke="#b0b0b0" stroke-width="0.48"/>
<line x1="20.57" x2="124.57" y1="167.16" y2="167.16" stroke="#b0b0b0" stroke-width="0.48"/>
<rect x="25.52" y="177.55" width="10.7" height="9.9" fill="#d8d8d8"/>
<text x="31.02" y="184.3" font-size="6.4" font-weight="bold" text-anchor="middle" fill="#111" class="ql">III</text>
<rect x="107.92" y="177.55" width="8.5" height="9.9" fill="#d8d8d8"/>
<text x="112.32" y="184.3" font-size="6.4" font-weight="bold" text-anchor="middle" fill="#111" class="ql">II</text>
<rect x="25.52" y="247" width="10.7" height="9.9" fill="#d8d8d8"/>
<text x="31.02" y="253.75" font-size="6.4" font-weight="bold" text-anchor="middle" fill="#111" class="ql">IV</text>
<rect x="108.77" y="247.2" width="6.4" height="9.9" fill="#d8d8d8"/>
<text x="112.12" y="253.95" font-size="6.4" font-weight="bold" text-anchor="middle" fill="#111" class="ql">I</text>
<line x1="53.6" x2="53.6" y1="158.7" y2="270.97" stroke="#000" stroke-opacity="0.8" stroke-width="1.0"/>
<line x1="20.57" x2="124.57" y1="210.6" y2="210.6" stroke="#000" stroke-opacity="0.8" stroke-width="1.0"/>
<rect x="20.57" y="158.7" width="104" height="112.6" fill="none" stroke="#4a4a4a" stroke-width="0.6"/>
<line x1="27.6" x2="27.6" y1="270.97" y2="272.97" stroke="#222" stroke-width="0.5"/>
<text x="27.75" y="278.97" font-size="5.6" class="tk" text-anchor="middle"><tspan letter-spacing="0.7">&#8722;</tspan>10</text>
<line x1="53.6" x2="53.6" y1="270.97" y2="272.97" stroke="#222" stroke-width="0.5"/>
<text x="53.75" y="278.97" font-size="5.6" class="tk" text-anchor="middle">0</text>
<line x1="79.6" x2="79.6" y1="270.97" y2="272.97" stroke="#222" stroke-width="0.5"/>
<text x="79.75" y="278.97" font-size="5.6" class="tk" text-anchor="middle">10</text>
<line x1="105.6" x2="105.6" y1="270.97" y2="272.97" stroke="#222" stroke-width="0.5"/>
<text x="105.75" y="278.97" font-size="5.6" class="tk" text-anchor="middle">20</text>
<line x1="18.57" x2="20.57" y1="254.04" y2="254.04" stroke="#222" stroke-width="0.5"/>
<text x="17.37" y="256.04" font-size="5.6" class="tk" text-anchor="end"><tspan letter-spacing="0.7">&#8722;</tspan>2</text>
<line x1="18.57" x2="20.57" y1="232.32" y2="232.32" stroke="#222" stroke-width="0.5"/>
<text x="17.37" y="234.32" font-size="5.6" class="tk" text-anchor="end"><tspan letter-spacing="0.7">&#8722;</tspan>1</text>
<line x1="18.57" x2="20.57" y1="210.6" y2="210.6" stroke="#222" stroke-width="0.5"/>
<text x="17.37" y="212.6" font-size="5.6" class="tk" text-anchor="end">0</text>
<line x1="18.57" x2="20.57" y1="188.88" y2="188.88" stroke="#222" stroke-width="0.5"/>
<text x="17.37" y="190.88" font-size="5.6" class="tk" text-anchor="end">1</text>
<line x1="18.57" x2="20.57" y1="167.16" y2="167.16" stroke="#222" stroke-width="0.5"/>
<text x="17.37" y="169.16" font-size="5.6" class="tk" text-anchor="end">2</text>
<text class="xl" x="72.57" y="287.57" font-size="6.5" text-anchor="middle">&#916;<tspan font-style="italic">Z</tspan><tspan font-style="italic" font-size="70%" dy="1.2">e</tspan><tspan dy="-1.2">(</tspan><tspan font-style="italic">below &#8722; above</tspan>) [dBZ km<tspan font-size="70%" dy="-2">&#8722;1</tspan><tspan dy="2">]</tspan></text>
<text class="yl" transform="translate(10.87,213.73) rotate(-90)" font-size="6.5" text-anchor="middle">&#916;<tspan font-style="italic">MDV</tspan>(<tspan font-style="italic">below &#8722; above</tspan>) [m s<tspan font-size="70%" dy="-2">&#8722;1</tspan><tspan dy="2"> km</tspan><tspan font-size="70%" dy="-2">&#8722;1</tspan><tspan dy="2">]</tspan></text>
<text class="ttl" x="20.77" y="155.7" font-size="6.5">(d) KAZR <tspan font-style="italic">Z</tspan><tspan font-style="italic" font-size="70%" dy="1.2">e</tspan><tspan dy="-1.2"> vs. </tspan><tspan font-style="italic">MDV</tspan> (color: &#916;<tspan font-style="italic">sZ</tspan><tspan font-style="italic" font-size="70%" dy="1.2">DR</tspan><tspan font-size="52%" dy="0.7">rain</tspan><tspan dy="-1.9">(</tspan><tspan font-style="italic">below &#8722; above</tspan>))</text>
<rect x="130.92" y="158.7" width="5.7" height="112.27" fill="url(#jet)"/>
<rect x="130.92" y="158.7" width="5.7" height="112.27" fill="none" stroke="#444" stroke-width="0.4"/>
<line x1="136.62" x2="138.62" y1="259.74" y2="259.74" stroke="#222" stroke-width="0.5"/>
<text class="tk" x="140.12" y="261.74" font-size="5.6"><tspan letter-spacing="0.7">&#8722;</tspan>0.4</text>
<line x1="136.62" x2="138.62" y1="237.29" y2="237.29" stroke="#222" stroke-width="0.5"/>
<text class="tk" x="140.12" y="239.29" font-size="5.6"><tspan letter-spacing="0.7">&#8722;</tspan>0.2</text>
<line x1="136.62" x2="138.62" y1="214.83" y2="214.83" stroke="#222" stroke-width="0.5"/>
<text class="tk" x="140.12" y="216.83" font-size="5.6">0.0</text>
<line x1="136.62" x2="138.62" y1="192.38" y2="192.38" stroke="#222" stroke-width="0.5"/>
<text class="tk" x="140.12" y="194.38" font-size="5.6">0.2</text>
<line x1="136.62" x2="138.62" y1="169.93" y2="169.93" stroke="#222" stroke-width="0.5"/>
<text class="tk" x="140.12" y="171.93" font-size="5.6">0.4</text>
<text class="cl" transform="translate(160.12,214.83) rotate(-90)" font-size="6.5" text-anchor="middle">&#916;<tspan font-style="italic">sZ</tspan><tspan font-style="italic" font-size="70%" dy="1.2">DR</tspan><tspan font-size="52%" dy="0.7">rain</tspan><tspan dy="-1.9">(</tspan><tspan font-style="italic">below &#8722; above</tspan>) [dB km<tspan font-size="70%" dy="-2">&#8722;1</tspan><tspan dy="2">]</tspan></text>
</g>
<g>
<rect x="226.39" y="169.47" width="7.36" height="7.25" fill="#82ff75"/>
<rect x="233.76" y="176.72" width="7.36" height="7.75" fill="#003fff"/>
<rect x="211.66" y="183.97" width="7.86" height="7.75" fill="#0035ff"/>
<rect x="219.03" y="183.97" width="7.86" height="7.75" fill="#60ff97"/>
<rect x="226.39" y="183.97" width="7.86" height="7.75" fill="#89ff6e"/>
<rect x="233.76" y="183.97" width="7.86" height="7.75" fill="#21ffd5"/>
<rect x="241.12" y="183.97" width="7.86" height="7.75" fill="#50ffa7"/>
<rect x="248.48" y="183.97" width="7.36" height="7.75" fill="#a3ff54"/>
<rect x="211.66" y="191.22" width="7.86" height="7.75" fill="#56ffa0"/>
<rect x="219.03" y="191.22" width="7.86" height="7.75" fill="#60ff97"/>
<rect x="226.39" y="191.22" width="7.86" height="7.75" fill="#60ff97"/>
<rect x="233.76" y="191.22" width="7.86" height="7.75" fill="#c5ff31"/>
<rect x="241.12" y="191.22" width="7.86" height="7.75" fill="#89ff6e"/>
<rect x="248.48" y="191.22" width="7.86" height="7.75" fill="#ffbe00"/>
<rect x="255.85" y="191.22" width="7.86" height="7.75" fill="#4affad"/>
<rect x="263.21" y="191.22" width="7.36" height="7.75" fill="#a3ff54"/>
<rect x="204.3" y="198.47" width="7.86" height="7.75" fill="#00adff"/>
<rect x="211.66" y="198.47" width="7.86" height="7.75" fill="#44ffb3"/>
<rect x="219.03" y="198.47" width="7.86" height="7.75" fill="#b7ff3f"/>
<rect x="226.39" y="198.47" width="7.86" height="7.75" fill="#ffc800"/>
<rect x="233.76" y="198.47" width="7.86" height="7.75" fill="#c5ff31"/>
<rect x="241.12" y="198.47" width="7.86" height="7.75" fill="#99ff5e"/>
<rect x="248.48" y="198.47" width="7.86" height="7.75" fill="#ffbe00"/>
<rect x="255.85" y="198.47" width="7.86" height="7.75" fill="#ff6e00"/>
<rect x="263.21" y="198.47" width="7.36" height="7.75" fill="#ff9600"/>
<rect x="204.3" y="205.72" width="7.86" height="7.75" fill="#ffdc00"/>
<rect x="211.66" y="205.72" width="7.86" height="7.75" fill="#dcff1a"/>
<rect x="219.03" y="205.72" width="7.86" height="7.75" fill="#c5ff31"/>
<rect x="226.39" y="205.72" width="7.86" height="7.75" fill="#feee00"/>
<rect x="233.76" y="205.72" width="7.86" height="7.75" fill="#ffbe00"/>
<rect x="241.12" y="205.72" width="7.86" height="7.75" fill="#ffd200"/>
<rect x="248.48" y="205.72" width="7.86" height="7.75" fill="#c50000"/>
<rect x="255.85" y="205.72" width="7.86" height="7.75" fill="#ff5000"/>
<rect x="263.21" y="205.72" width="7.86" height="7.75" fill="#e80000"/>
<rect x="270.58" y="205.72" width="7.36" height="7.75" fill="#ff3c00"/>
<rect x="196.93" y="212.97" width="7.86" height="7.25" fill="#29ffce"/>
<rect x="204.3" y="212.97" width="7.86" height="7.75" fill="#00adff"/>
<rect x="211.66" y="212.97" width="7.86" height="7.75" fill="#eaff0d"/>
<rect x="219.03" y="212.97" width="7.86" height="7.75" fill="#eaff0d"/>
<rect x="226.39" y="212.97" width="7.86" height="7.75" fill="#feee00"/>
<rect x="233.76" y="212.97" width="7.86" height="7.75" fill="#ffc800"/>
<rect x="241.12" y="212.97" width="7.86" height="7.75" fill="#ff8200"/>
<rect x="248.48" y="212.97" width="7.86" height="7.75" fill="#ffdc00"/>
<rect x="255.85" y="212.97" width="7.86" height="7.75" fill="#ff5000"/>
<rect x="263.21" y="212.97" width="7.86" height="7.75" fill="#ff2800"/>
<rect x="270.58" y="212.97" width="7.36" height="7.25" fill="#ff3c00"/>
<rect x="204.3" y="220.22" width="7.86" height="7.25" fill="#ff9600"/>
<rect x="211.66" y="220.22" width="7.86" height="7.75" fill="#82ff75"/>
<rect x="219.03" y="220.22" width="7.86" height="7.75" fill="#b7ff3f"/>
<rect x="226.39" y="220.22" width="7.86" height="7.75" fill="#d1ff26"/>
<rect x="233.76" y="220.22" width="7.86" height="7.75" fill="#ffd200"/>
<rect x="241.12" y="220.22" width="7.86" height="7.75" fill="#ff4600"/>
<rect x="248.48" y="220.22" width="7.86" height="7.75" fill="#ff6400"/>
<rect x="255.85" y="220.22" width="7.86" height="7.75" fill="#c50000"/>
<rect x="263.21" y="220.22" width="7.36" height="7.25" fill="#970000"/>
<rect x="211.66" y="227.47" width="7.86" height="7.25" fill="#005dff"/>
<rect x="219.03" y="227.47" width="7.86" height="7.75" fill="#6aff8d"/>
<rect x="226.39" y="227.47" width="7.86" height="7.75" fill="#beff38"/>
<rect x="233.76" y="227.47" width="7.86" height="7.75" fill="#ff8c00"/>
<rect x="241.12" y="227.47" width="7.86" height="7.75" fill="#ff4600"/>
<rect x="248.48" y="227.47" width="7.86" height="7.75" fill="#ff5000"/>
<rect x="255.85" y="227.47" width="7.36" height="7.25" fill="#ff6e00"/>
<rect x="219.03" y="234.72" width="7.86" height="7.25" fill="#b7ff3f"/>
<rect x="226.39" y="234.72" width="7.86" height="7.75" fill="#beff38"/>
<rect x="233.76" y="234.72" width="7.86" height="7.75" fill="#ff5000"/>
<rect x="241.12" y="234.72" width="7.86" height="7.75" fill="#ff5a00"/>
<rect x="248.48" y="234.72" width="7.36" height="7.25" fill="#ff5000"/>
<rect x="211.66" y="241.97" width="7.36" height="7.25" fill="#6aff8d"/>
<rect x="226.39" y="241.97" width="7.86" height="7.75" fill="#a3ff54"/>
<rect x="233.76" y="241.97" width="7.86" height="7.25" fill="#ff6e00"/>
<rect x="241.12" y="241.97" width="7.36" height="7.25" fill="#c50000"/>
<rect x="219.03" y="249.22" width="7.86" height="7.25" fill="#a20000"/>
<rect x="226.39" y="249.22" width="7.36" height="7.75" fill="#60ff97"/>
<rect x="226.39" y="256.47" width="7.36" height="7.25" fill="#970000"/>
<line x1="195.97" x2="195.97" y1="158.7" y2="270.97" stroke="#b0b0b0" stroke-width="0.48"/>
<line x1="247.47" x2="247.47" y1="158.7" y2="270.97" stroke="#b0b0b0" stroke-width="0.48"/>
<line x1="273.22" x2="273.22" y1="158.7" y2="270.97" stroke="#b0b0b0" stroke-width="0.48"/>
<line x1="189.57" x2="292.67" y1="254.04" y2="254.04" stroke="#b0b0b0" stroke-width="0.48"/>
<line x1="189.57" x2="292.67" y1="232.32" y2="232.32" stroke="#b0b0b0" stroke-width="0.48"/>
<line x1="189.57" x2="292.67" y1="188.88" y2="188.88" stroke="#b0b0b0" stroke-width="0.48"/>
<line x1="189.57" x2="292.67" y1="167.16" y2="167.16" stroke="#b0b0b0" stroke-width="0.48"/>
<rect x="194.43" y="177.55" width="10.7" height="9.9" fill="#d8d8d8"/>
<text x="199.93" y="184.3" font-size="6.4" font-weight="bold" text-anchor="middle" fill="#111" class="ql">III</text>
<rect x="276.13" y="177.55" width="8.5" height="9.9" fill="#d8d8d8"/>
<text x="280.53" y="184.3" font-size="6.4" font-weight="bold" text-anchor="middle" fill="#111" class="ql">II</text>
<rect x="194.43" y="247" width="10.7" height="9.9" fill="#d8d8d8"/>
<text x="199.93" y="253.75" font-size="6.4" font-weight="bold" text-anchor="middle" fill="#111" class="ql">IV</text>
<rect x="276.98" y="247.2" width="6.4" height="9.9" fill="#d8d8d8"/>
<text x="280.33" y="253.95" font-size="6.4" font-weight="bold" text-anchor="middle" fill="#111" class="ql">I</text>
<line x1="221.72" x2="221.72" y1="158.7" y2="270.97" stroke="#000" stroke-opacity="0.8" stroke-width="1.0"/>
<line x1="189.57" x2="292.67" y1="210.6" y2="210.6" stroke="#000" stroke-opacity="0.8" stroke-width="1.0"/>
<rect x="189.57" y="158.7" width="103.1" height="112.6" fill="none" stroke="#4a4a4a" stroke-width="0.6"/>
<line x1="195.97" x2="195.97" y1="270.97" y2="272.97" stroke="#222" stroke-width="0.5"/>
<text x="196.12" y="278.97" font-size="5.6" class="tk" text-anchor="middle"><tspan letter-spacing="0.7">&#8722;</tspan>10</text>
<line x1="221.72" x2="221.72" y1="270.97" y2="272.97" stroke="#222" stroke-width="0.5"/>
<text x="221.87" y="278.97" font-size="5.6" class="tk" text-anchor="middle">0</text>
<line x1="247.47" x2="247.47" y1="270.97" y2="272.97" stroke="#222" stroke-width="0.5"/>
<text x="247.62" y="278.97" font-size="5.6" class="tk" text-anchor="middle">10</text>
<line x1="273.22" x2="273.22" y1="270.97" y2="272.97" stroke="#222" stroke-width="0.5"/>
<text x="273.37" y="278.97" font-size="5.6" class="tk" text-anchor="middle">20</text>
<line x1="187.57" x2="189.57" y1="254.04" y2="254.04" stroke="#222" stroke-width="0.5"/>
<text x="186.37" y="256.04" font-size="5.6" class="tk" text-anchor="end"><tspan letter-spacing="0.7">&#8722;</tspan>2</text>
<line x1="187.57" x2="189.57" y1="232.32" y2="232.32" stroke="#222" stroke-width="0.5"/>
<text x="186.37" y="234.32" font-size="5.6" class="tk" text-anchor="end"><tspan letter-spacing="0.7">&#8722;</tspan>1</text>
<line x1="187.57" x2="189.57" y1="210.6" y2="210.6" stroke="#222" stroke-width="0.5"/>
<text x="186.37" y="212.6" font-size="5.6" class="tk" text-anchor="end">0</text>
<line x1="187.57" x2="189.57" y1="188.88" y2="188.88" stroke="#222" stroke-width="0.5"/>
<text x="186.37" y="190.88" font-size="5.6" class="tk" text-anchor="end">1</text>
<line x1="187.57" x2="189.57" y1="167.16" y2="167.16" stroke="#222" stroke-width="0.5"/>
<text x="186.37" y="169.16" font-size="5.6" class="tk" text-anchor="end">2</text>
<text class="xl" x="241.12" y="287.57" font-size="6.5" text-anchor="middle">&#916;<tspan font-style="italic">Z</tspan><tspan font-style="italic" font-size="70%" dy="1.2">e</tspan><tspan dy="-1.2">(</tspan><tspan font-style="italic">below &#8722; above</tspan>) [dBZ km<tspan font-size="70%" dy="-2">&#8722;1</tspan><tspan dy="2">]</tspan></text>
<text class="yl" transform="translate(179.87,213.73) rotate(-90)" font-size="6.5" text-anchor="middle">&#916;<tspan font-style="italic">MDV</tspan>(<tspan font-style="italic">below &#8722; above</tspan>) [m s<tspan font-size="70%" dy="-2">&#8722;1</tspan><tspan dy="2"> km</tspan><tspan font-size="70%" dy="-2">&#8722;1</tspan><tspan dy="2">]</tspan></text>
<text class="ttl" x="189.77" y="155.7" font-size="6.5">(e) KAZR <tspan font-style="italic">Z</tspan><tspan font-style="italic" font-size="70%" dy="1.2">e</tspan><tspan dy="-1.2"> vs. </tspan><tspan font-style="italic">MDV</tspan> (color: VISSS <tspan font-style="italic">C</tspan>)</text>
<rect x="299.02" y="158.7" width="5.7" height="112.27" fill="url(#jet)"/>
<rect x="299.02" y="158.7" width="5.7" height="112.27" fill="none" stroke="#444" stroke-width="0.4"/>
<line x1="304.72" x2="306.72" y1="270.97" y2="270.97" stroke="#222" stroke-width="0.5"/>
<text class="tk" x="308.22" y="272.97" font-size="5.6">1.2</text>
<line x1="304.72" x2="306.72" y1="256.94" y2="256.94" stroke="#222" stroke-width="0.5"/>
<text class="tk" x="308.22" y="258.94" font-size="5.6">1.3</text>
<line x1="304.72" x2="306.72" y1="242.9" y2="242.9" stroke="#222" stroke-width="0.5"/>
<text class="tk" x="308.22" y="244.9" font-size="5.6">1.4</text>
<line x1="304.72" x2="306.72" y1="228.87" y2="228.87" stroke="#222" stroke-width="0.5"/>
<text class="tk" x="308.22" y="230.87" font-size="5.6">1.5</text>
<line x1="304.72" x2="306.72" y1="214.83" y2="214.83" stroke="#222" stroke-width="0.5"/>
<text class="tk" x="308.22" y="216.83" font-size="5.6">1.6</text>
<line x1="304.72" x2="306.72" y1="200.8" y2="200.8" stroke="#222" stroke-width="0.5"/>
<text class="tk" x="308.22" y="202.8" font-size="5.6">1.7</text>
<line x1="304.72" x2="306.72" y1="186.77" y2="186.77" stroke="#222" stroke-width="0.5"/>
<text class="tk" x="308.22" y="188.77" font-size="5.6">1.8</text>
<line x1="304.72" x2="306.72" y1="172.73" y2="172.73" stroke="#222" stroke-width="0.5"/>
<text class="tk" x="308.22" y="174.73" font-size="5.6">1.9</text>
<line x1="304.72" x2="306.72" y1="158.7" y2="158.7" stroke="#222" stroke-width="0.5"/>
<text class="tk" x="308.22" y="160.7" font-size="5.6">2.0</text>
<text class="cl" transform="translate(323.22,214.83) rotate(-90)" font-size="6.5" text-anchor="middle">VISSS complexity <tspan font-style="italic">C</tspan></text>
</g>
<g>
<rect x="394.64" y="169.47" width="7.43" height="7.25" fill="#008fff"/>
<rect x="402.07" y="176.72" width="7.43" height="7.75" fill="#0035ff"/>
<rect x="379.79" y="183.97" width="7.93" height="7.75" fill="#0003ff"/>
<rect x="387.21" y="183.97" width="7.93" height="7.75" fill="#30ffc7"/>
<rect x="394.64" y="183.97" width="7.93" height="7.75" fill="#0085ff"/>
<rect x="402.07" y="183.97" width="7.93" height="7.75" fill="#0049ff"/>
<rect x="409.5" y="183.97" width="7.93" height="7.75" fill="#002bff"/>
<rect x="416.93" y="183.97" width="7.43" height="7.75" fill="#00a3ff"/>
<rect x="379.79" y="191.22" width="7.93" height="7.75" fill="#12fce5"/>
<rect x="387.21" y="191.22" width="7.93" height="7.75" fill="#29ffce"/>
<rect x="394.64" y="191.22" width="7.93" height="7.75" fill="#21ffd5"/>
<rect x="402.07" y="191.22" width="7.93" height="7.75" fill="#0017ff"/>
<rect x="409.5" y="191.22" width="7.93" height="7.75" fill="#000dff"/>
<rect x="416.93" y="191.22" width="7.93" height="7.75" fill="#008fff"/>
<rect x="424.36" y="191.22" width="7.93" height="7.75" fill="#000dff"/>
<rect x="431.79" y="191.22" width="7.43" height="7.75" fill="#0000fd"/>
<rect x="372.36" y="198.47" width="7.93" height="7.75" fill="#0cf5eb"/>
<rect x="379.79" y="198.47" width="7.93" height="7.75" fill="#000dff"/>
<rect x="387.21" y="198.47" width="7.93" height="7.75" fill="#29ffce"/>
<rect x="394.64" y="198.47" width="7.93" height="7.75" fill="#37ffc0"/>
<rect x="402.07" y="198.47" width="7.93" height="7.75" fill="#00d7ff"/>
<rect x="409.5" y="198.47" width="7.93" height="7.75" fill="#00b6ff"/>
<rect x="416.93" y="198.47" width="7.93" height="7.75" fill="#0085ff"/>
<rect x="424.36" y="198.47" width="7.93" height="7.75" fill="#007bff"/>
<rect x="431.79" y="198.47" width="7.43" height="7.75" fill="#60ff97"/>
<rect x="372.36" y="205.72" width="7.93" height="7.75" fill="#89ff6e"/>
<rect x="379.79" y="205.72" width="7.93" height="7.75" fill="#4affad"/>
<rect x="387.21" y="205.72" width="7.93" height="7.75" fill="#44ffb3"/>
<rect x="394.64" y="205.72" width="7.93" height="7.75" fill="#8fff68"/>
<rect x="402.07" y="205.72" width="7.93" height="7.75" fill="#4affad"/>
<rect x="409.5" y="205.72" width="7.93" height="7.75" fill="#30ffc7"/>
<rect x="416.93" y="205.72" width="7.93" height="7.75" fill="#1affdd"/>
<rect x="424.36" y="205.72" width="7.93" height="7.75" fill="#73ff84"/>
<rect x="431.79" y="205.72" width="7.93" height="7.75" fill="#0cf5eb"/>
<rect x="439.21" y="205.72" width="7.43" height="7.75" fill="#0035ff"/>
<rect x="364.93" y="212.97" width="7.93" height="7.25" fill="#ff9600"/>
<rect x="372.36" y="212.97" width="7.93" height="7.75" fill="#50ffa7"/>
<rect x="379.79" y="212.97" width="7.93" height="7.75" fill="#1affdd"/>
<rect x="387.21" y="212.97" width="7.93" height="7.75" fill="#3effb9"/>
<rect x="394.64" y="212.97" width="7.93" height="7.75" fill="#99ff5e"/>
<rect x="402.07" y="212.97" width="7.93" height="7.75" fill="#73ff84"/>
<rect x="409.5" y="212.97" width="7.93" height="7.75" fill="#50ffa7"/>
<rect x="416.93" y="212.97" width="7.93" height="7.75" fill="#44ffb3"/>
<rect x="424.36" y="212.97" width="7.93" height="7.75" fill="#30ffc7"/>
<rect x="431.79" y="212.97" width="7.93" height="7.75" fill="#56ffa0"/>
<rect x="439.21" y="212.97" width="7.43" height="7.25" fill="#005dff"/>
<rect x="372.36" y="220.22" width="7.93" height="7.25" fill="#008fff"/>
<rect x="379.79" y="220.22" width="7.93" height="7.75" fill="#ffb400"/>
<rect x="387.21" y="220.22" width="7.93" height="7.75" fill="#3effb9"/>
<rect x="394.64" y="220.22" width="7.93" height="7.75" fill="#dcff1a"/>
<rect x="402.07" y="220.22" width="7.93" height="7.75" fill="#82ff75"/>
<rect x="409.5" y="220.22" width="7.93" height="7.75" fill="#56ffa0"/>
<rect x="416.93" y="220.22" width="7.93" height="7.75" fill="#3effb9"/>
<rect x="424.36" y="220.22" width="7.93" height="7.75" fill="#60ff97"/>
<rect x="431.79" y="220.22" width="7.43" height="7.25" fill="#56ffa0"/>
<rect x="379.79" y="227.47" width="7.93" height="7.25" fill="#ffd200"/>
<rect x="387.21" y="227.47" width="7.93" height="7.75" fill="#8fff68"/>
<rect x="394.64" y="227.47" width="7.93" height="7.75" fill="#ffdc00"/>
<rect x="402.07" y="227.47" width="7.93" height="7.75" fill="#7bff7c"/>
<rect x="409.5" y="227.47" width="7.93" height="7.75" fill="#60ff97"/>
<rect x="416.93" y="227.47" width="7.93" height="7.75" fill="#44ffb3"/>
<rect x="424.36" y="227.47" width="7.43" height="7.25" fill="#56ffa0"/>
<rect x="387.21" y="234.72" width="7.93" height="7.25" fill="#beff38"/>
<rect x="394.64" y="234.72" width="7.93" height="7.75" fill="#ffc800"/>
<rect x="402.07" y="234.72" width="7.93" height="7.75" fill="#82ff75"/>
<rect x="409.5" y="234.72" width="7.93" height="7.75" fill="#73ff84"/>
<rect x="416.93" y="234.72" width="7.43" height="7.25" fill="#4affad"/>
<rect x="379.79" y="241.97" width="7.43" height="7.25" fill="#dcff1a"/>
<rect x="394.64" y="241.97" width="7.93" height="7.75" fill="#d1ff26"/>
<rect x="402.07" y="241.97" width="7.93" height="7.25" fill="#a3ff54"/>
<rect x="409.5" y="241.97" width="7.43" height="7.25" fill="#89ff6e"/>
<rect x="387.21" y="249.22" width="7.93" height="7.25" fill="#a3ff54"/>
<rect x="394.64" y="249.22" width="7.43" height="7.75" fill="#ff9600"/>
<rect x="394.64" y="256.47" width="7.43" height="7.25" fill="#beff38"/>
<line x1="364.55" x2="364.55" y1="158.7" y2="270.97" stroke="#b0b0b0" stroke-width="0.48"/>
<line x1="416.55" x2="416.55" y1="158.7" y2="270.97" stroke="#b0b0b0" stroke-width="0.48"/>
<line x1="442.55" x2="442.55" y1="158.7" y2="270.97" stroke="#b0b0b0" stroke-width="0.48"/>
<line x1="357.5" x2="461.5" y1="254.04" y2="254.04" stroke="#b0b0b0" stroke-width="0.48"/>
<line x1="357.5" x2="461.5" y1="232.32" y2="232.32" stroke="#b0b0b0" stroke-width="0.48"/>
<line x1="357.5" x2="461.5" y1="188.88" y2="188.88" stroke="#b0b0b0" stroke-width="0.48"/>
<line x1="357.5" x2="461.5" y1="167.16" y2="167.16" stroke="#b0b0b0" stroke-width="0.48"/>
<rect x="362.45" y="177.55" width="10.7" height="9.9" fill="#d8d8d8"/>
<text x="367.95" y="184.3" font-size="6.4" font-weight="bold" text-anchor="middle" fill="#111" class="ql">III</text>
<rect x="444.85" y="177.55" width="8.5" height="9.9" fill="#d8d8d8"/>
<text x="449.25" y="184.3" font-size="6.4" font-weight="bold" text-anchor="middle" fill="#111" class="ql">II</text>
<rect x="362.45" y="247" width="10.7" height="9.9" fill="#d8d8d8"/>
<text x="367.95" y="253.75" font-size="6.4" font-weight="bold" text-anchor="middle" fill="#111" class="ql">IV</text>
<rect x="445.7" y="247.2" width="6.4" height="9.9" fill="#d8d8d8"/>
<text x="449.05" y="253.95" font-size="6.4" font-weight="bold" text-anchor="middle" fill="#111" class="ql">I</text>
<line x1="390.55" x2="390.55" y1="158.7" y2="270.97" stroke="#000" stroke-opacity="0.8" stroke-width="1.0"/>
<line x1="357.5" x2="461.5" y1="210.6" y2="210.6" stroke="#000" stroke-opacity="0.8" stroke-width="1.0"/>
<rect x="357.5" y="158.7" width="104" height="112.6" fill="none" stroke="#4a4a4a" stroke-width="0.6"/>
<line x1="364.55" x2="364.55" y1="270.97" y2="272.97" stroke="#222" stroke-width="0.5"/>
<text x="364.7" y="278.97" font-size="5.6" class="tk" text-anchor="middle"><tspan letter-spacing="0.7">&#8722;</tspan>10</text>
<line x1="390.55" x2="390.55" y1="270.97" y2="272.97" stroke="#222" stroke-width="0.5"/>
<text x="390.7" y="278.97" font-size="5.6" class="tk" text-anchor="middle">0</text>
<line x1="416.55" x2="416.55" y1="270.97" y2="272.97" stroke="#222" stroke-width="0.5"/>
<text x="416.7" y="278.97" font-size="5.6" class="tk" text-anchor="middle">10</text>
<line x1="442.55" x2="442.55" y1="270.97" y2="272.97" stroke="#222" stroke-width="0.5"/>
<text x="442.7" y="278.97" font-size="5.6" class="tk" text-anchor="middle">20</text>
<line x1="355.5" x2="357.5" y1="254.04" y2="254.04" stroke="#222" stroke-width="0.5"/>
<text x="354.3" y="256.04" font-size="5.6" class="tk" text-anchor="end"><tspan letter-spacing="0.7">&#8722;</tspan>2</text>
<line x1="355.5" x2="357.5" y1="232.32" y2="232.32" stroke="#222" stroke-width="0.5"/>
<text x="354.3" y="234.32" font-size="5.6" class="tk" text-anchor="end"><tspan letter-spacing="0.7">&#8722;</tspan>1</text>
<line x1="355.5" x2="357.5" y1="210.6" y2="210.6" stroke="#222" stroke-width="0.5"/>
<text x="354.3" y="212.6" font-size="5.6" class="tk" text-anchor="end">0</text>
<line x1="355.5" x2="357.5" y1="188.88" y2="188.88" stroke="#222" stroke-width="0.5"/>
<text x="354.3" y="190.88" font-size="5.6" class="tk" text-anchor="end">1</text>
<line x1="355.5" x2="357.5" y1="167.16" y2="167.16" stroke="#222" stroke-width="0.5"/>
<text x="354.3" y="169.16" font-size="5.6" class="tk" text-anchor="end">2</text>
<text class="xl" x="409.5" y="287.57" font-size="6.5" text-anchor="middle">&#916;<tspan font-style="italic">Z</tspan><tspan font-style="italic" font-size="70%" dy="1.2">e</tspan><tspan dy="-1.2">(</tspan><tspan font-style="italic">below &#8722; above</tspan>) [dBZ km<tspan font-size="70%" dy="-2">&#8722;1</tspan><tspan dy="2">]</tspan></text>
<text class="yl" transform="translate(347.8,213.73) rotate(-90)" font-size="6.5" text-anchor="middle">&#916;<tspan font-style="italic">MDV</tspan>(<tspan font-style="italic">below &#8722; above</tspan>) [m s<tspan font-size="70%" dy="-2">&#8722;1</tspan><tspan dy="2"> km</tspan><tspan font-size="70%" dy="-2">&#8722;1</tspan><tspan dy="2">]</tspan></text>
<text class="ttl" x="357.7" y="155.7" font-size="6.5">(f) KAZR <tspan font-style="italic">Z</tspan><tspan font-style="italic" font-size="70%" dy="1.2">e</tspan><tspan dy="-1.2"> vs. </tspan><tspan font-style="italic">MDV</tspan> (color: T (at TLH))</text>
<rect x="467.85" y="158.7" width="5.7" height="112.27" fill="url(#jet)"/>
<rect x="467.85" y="158.7" width="5.7" height="112.27" fill="none" stroke="#444" stroke-width="0.4"/>
<line x1="473.55" x2="475.55" y1="270.97" y2="270.97" stroke="#222" stroke-width="0.5"/>
<text class="tk" x="477.05" y="272.97" font-size="5.6"><tspan letter-spacing="0.7">&#8722;</tspan>20</text>
<line x1="473.55" x2="475.55" y1="256" y2="256" stroke="#222" stroke-width="0.5"/>
<text class="tk" x="477.05" y="258" font-size="5.6"><tspan letter-spacing="0.7">&#8722;</tspan>18</text>
<line x1="473.55" x2="475.55" y1="241.03" y2="241.03" stroke="#222" stroke-width="0.5"/>
<text class="tk" x="477.05" y="243.03" font-size="5.6"><tspan letter-spacing="0.7">&#8722;</tspan>16</text>
<line x1="473.55" x2="475.55" y1="226.06" y2="226.06" stroke="#222" stroke-width="0.5"/>
<text class="tk" x="477.05" y="228.06" font-size="5.6"><tspan letter-spacing="0.7">&#8722;</tspan>14</text>
<line x1="473.55" x2="475.55" y1="211.09" y2="211.09" stroke="#222" stroke-width="0.5"/>
<text class="tk" x="477.05" y="213.09" font-size="5.6"><tspan letter-spacing="0.7">&#8722;</tspan>12</text>
<line x1="473.55" x2="475.55" y1="196.12" y2="196.12" stroke="#222" stroke-width="0.5"/>
<text class="tk" x="477.05" y="198.12" font-size="5.6"><tspan letter-spacing="0.7">&#8722;</tspan>10</text>
<line x1="473.55" x2="475.55" y1="181.15" y2="181.15" stroke="#222" stroke-width="0.5"/>
<text class="tk" x="477.05" y="183.15" font-size="5.6"><tspan letter-spacing="0.7">&#8722;</tspan>8</text>
<line x1="473.55" x2="475.55" y1="166.18" y2="166.18" stroke="#222" stroke-width="0.5"/>
<text class="tk" x="477.05" y="168.18" font-size="5.6"><tspan letter-spacing="0.7">&#8722;</tspan>6</text>
<text class="cl" transform="translate(494.35,214.83) rotate(-90)" font-size="6.5" text-anchor="middle">T [&#176;C]</text>
</g>
<g>
<rect x="57.71" y="314.92" width="7.43" height="7.25" fill="#73ff84"/>
<rect x="65.14" y="322.17" width="7.43" height="7.75" fill="#29ffce"/>
<rect x="42.86" y="329.42" width="7.93" height="7.75" fill="#000080"/>
<rect x="50.28" y="329.42" width="7.93" height="7.75" fill="#0067ff"/>
<rect x="57.71" y="329.42" width="7.93" height="7.75" fill="#00c6ff"/>
<rect x="65.14" y="329.42" width="7.93" height="7.75" fill="#8fff68"/>
<rect x="72.57" y="329.42" width="7.93" height="7.75" fill="#a3ff54"/>
<rect x="80" y="329.42" width="7.43" height="7.75" fill="#99ff5e"/>
<rect x="42.86" y="336.67" width="7.93" height="7.75" fill="#005dff"/>
<rect x="50.28" y="336.67" width="7.93" height="7.75" fill="#00beff"/>
<rect x="57.71" y="336.67" width="7.93" height="7.75" fill="#1affdd"/>
<rect x="65.14" y="336.67" width="7.93" height="7.75" fill="#b7ff3f"/>
<rect x="72.57" y="336.67" width="7.93" height="7.75" fill="#c5ff31"/>
<rect x="80" y="336.67" width="7.93" height="7.75" fill="#ffbe00"/>
<rect x="87.43" y="336.67" width="7.93" height="7.75" fill="#b7ff3f"/>
<rect x="94.86" y="336.67" width="7.43" height="7.75" fill="#ff3200"/>
<rect x="35.43" y="343.92" width="7.93" height="7.75" fill="#00adff"/>
<rect x="42.86" y="343.92" width="7.93" height="7.75" fill="#37ffc0"/>
<rect x="50.28" y="343.92" width="7.93" height="7.75" fill="#37ffc0"/>
<rect x="57.71" y="343.92" width="7.93" height="7.75" fill="#6aff8d"/>
<rect x="65.14" y="343.92" width="7.93" height="7.75" fill="#8fff68"/>
<rect x="72.57" y="343.92" width="7.93" height="7.75" fill="#f7f600"/>
<rect x="80" y="343.92" width="7.93" height="7.75" fill="#ffe500"/>
<rect x="87.43" y="343.92" width="7.93" height="7.75" fill="#ffd200"/>
<rect x="94.86" y="343.92" width="7.43" height="7.75" fill="#ffb400"/>
<rect x="35.43" y="351.17" width="7.93" height="7.75" fill="#00adff"/>
<rect x="42.86" y="351.17" width="7.93" height="7.75" fill="#37ffc0"/>
<rect x="50.28" y="351.17" width="7.93" height="7.75" fill="#00adff"/>
<rect x="57.71" y="351.17" width="7.93" height="7.75" fill="#30ffc7"/>
<rect x="65.14" y="351.17" width="7.93" height="7.75" fill="#6aff8d"/>
<rect x="72.57" y="351.17" width="7.93" height="7.75" fill="#dcff1a"/>
<rect x="80" y="351.17" width="7.93" height="7.75" fill="#ffd200"/>
<rect x="87.43" y="351.17" width="7.93" height="7.75" fill="#beff38"/>
<rect x="94.86" y="351.17" width="7.93" height="7.75" fill="#ff1e00"/>
<rect x="102.28" y="351.17" width="7.43" height="7.75" fill="#800000"/>
<rect x="28" y="358.42" width="7.93" height="7.25" fill="#0099ff"/>
<rect x="35.43" y="358.42" width="7.93" height="7.75" fill="#0000e6"/>
<rect x="42.86" y="358.42" width="7.93" height="7.75" fill="#00cfff"/>
<rect x="50.28" y="358.42" width="7.93" height="7.75" fill="#21ffd5"/>
<rect x="57.71" y="358.42" width="7.93" height="7.75" fill="#30ffc7"/>
<rect x="65.14" y="358.42" width="7.93" height="7.75" fill="#82ff75"/>
<rect x="72.57" y="358.42" width="7.93" height="7.75" fill="#ffd200"/>
<rect x="80" y="358.42" width="7.93" height="7.75" fill="#ffa000"/>
<rect x="87.43" y="358.42" width="7.93" height="7.75" fill="#ff9600"/>
<rect x="94.86" y="358.42" width="7.93" height="7.75" fill="#ffdc00"/>
<rect x="102.28" y="358.42" width="7.43" height="7.25" fill="#ff1400"/>
<rect x="35.43" y="365.67" width="7.93" height="7.25" fill="#44ffb3"/>
<rect x="42.86" y="365.67" width="7.93" height="7.75" fill="#4affad"/>
<rect x="50.28" y="365.67" width="7.93" height="7.75" fill="#3effb9"/>
<rect x="57.71" y="365.67" width="7.93" height="7.75" fill="#6aff8d"/>
<rect x="65.14" y="365.67" width="7.93" height="7.75" fill="#b7ff3f"/>
<rect x="72.57" y="365.67" width="7.93" height="7.75" fill="#d1ff26"/>
<rect x="80" y="365.67" width="7.93" height="7.75" fill="#f7f600"/>
<rect x="87.43" y="365.67" width="7.93" height="7.75" fill="#ffaa00"/>
<rect x="94.86" y="365.67" width="7.43" height="7.25" fill="#ffa000"/>
<rect x="42.86" y="372.92" width="7.93" height="7.25" fill="#89ff6e"/>
<rect x="50.28" y="372.92" width="7.93" height="7.75" fill="#89ff6e"/>
<rect x="57.71" y="372.92" width="7.93" height="7.75" fill="#7bff7c"/>
<rect x="65.14" y="372.92" width="7.93" height="7.75" fill="#99ff5e"/>
<rect x="72.57" y="372.92" width="7.93" height="7.75" fill="#b7ff3f"/>
<rect x="80" y="372.92" width="7.93" height="7.75" fill="#ffbe00"/>
<rect x="87.43" y="372.92" width="7.43" height="7.25" fill="#ffbe00"/>
<rect x="50.28" y="380.17" width="7.93" height="7.25" fill="#b7ff3f"/>
<rect x="57.71" y="380.17" width="7.93" height="7.75" fill="#8fff68"/>
<rect x="65.14" y="380.17" width="7.93" height="7.75" fill="#89ff6e"/>
<rect x="72.57" y="380.17" width="7.93" height="7.75" fill="#ffc800"/>
<rect x="80" y="380.17" width="7.43" height="7.25" fill="#ff3200"/>
<rect x="42.86" y="387.42" width="7.43" height="7.25" fill="#0017ff"/>
<rect x="57.71" y="387.42" width="7.93" height="7.75" fill="#a3ff54"/>
<rect x="65.14" y="387.42" width="7.93" height="7.25" fill="#b7ff3f"/>
<rect x="72.57" y="387.42" width="7.43" height="7.25" fill="#d1ff26"/>
<rect x="50.28" y="394.67" width="7.93" height="7.25" fill="#89ff6e"/>
<rect x="57.71" y="394.67" width="7.43" height="7.75" fill="#f7f600"/>
<rect x="57.71" y="401.92" width="7.43" height="7.25" fill="#82ff75"/>
<line x1="27.6" x2="27.6" y1="304.15" y2="416.42" stroke="#b0b0b0" stroke-width="0.48"/>
<line x1="79.6" x2="79.6" y1="304.15" y2="416.42" stroke="#b0b0b0" stroke-width="0.48"/>
<line x1="105.6" x2="105.6" y1="304.15" y2="416.42" stroke="#b0b0b0" stroke-width="0.48"/>
<line x1="20.57" x2="124.57" y1="399.49" y2="399.49" stroke="#b0b0b0" stroke-width="0.48"/>
<line x1="20.57" x2="124.57" y1="377.77" y2="377.77" stroke="#b0b0b0" stroke-width="0.48"/>
<line x1="20.57" x2="124.57" y1="334.33" y2="334.33" stroke="#b0b0b0" stroke-width="0.48"/>
<line x1="20.57" x2="124.57" y1="312.61" y2="312.61" stroke="#b0b0b0" stroke-width="0.48"/>
<rect x="25.52" y="323" width="10.7" height="9.9" fill="#d8d8d8"/>
<text x="31.02" y="329.75" font-size="6.4" font-weight="bold" text-anchor="middle" fill="#111" class="ql">III</text>
<rect x="107.92" y="323" width="8.5" height="9.9" fill="#d8d8d8"/>
<text x="112.32" y="329.75" font-size="6.4" font-weight="bold" text-anchor="middle" fill="#111" class="ql">II</text>
<rect x="25.52" y="392.45" width="10.7" height="9.9" fill="#d8d8d8"/>
<text x="31.02" y="399.2" font-size="6.4" font-weight="bold" text-anchor="middle" fill="#111" class="ql">IV</text>
<rect x="108.77" y="392.65" width="6.4" height="9.9" fill="#d8d8d8"/>
<text x="112.12" y="399.4" font-size="6.4" font-weight="bold" text-anchor="middle" fill="#111" class="ql">I</text>
<line x1="53.6" x2="53.6" y1="304.15" y2="416.42" stroke="#000" stroke-opacity="0.8" stroke-width="1.0"/>
<line x1="20.57" x2="124.57" y1="356.1" y2="356.1" stroke="#000" stroke-opacity="0.8" stroke-width="1.0"/>
<rect x="20.57" y="304.15" width="104" height="112.3" fill="none" stroke="#4a4a4a" stroke-width="0.6"/>
<line x1="27.6" x2="27.6" y1="416.42" y2="418.42" stroke="#222" stroke-width="0.5"/>
<text x="27.75" y="424.42" font-size="5.6" class="tk" text-anchor="middle"><tspan letter-spacing="0.7">&#8722;</tspan>10</text>
<line x1="53.6" x2="53.6" y1="416.42" y2="418.42" stroke="#222" stroke-width="0.5"/>
<text x="53.75" y="424.42" font-size="5.6" class="tk" text-anchor="middle">0</text>
<line x1="79.6" x2="79.6" y1="416.42" y2="418.42" stroke="#222" stroke-width="0.5"/>
<text x="79.75" y="424.42" font-size="5.6" class="tk" text-anchor="middle">10</text>
<line x1="105.6" x2="105.6" y1="416.42" y2="418.42" stroke="#222" stroke-width="0.5"/>
<text x="105.75" y="424.42" font-size="5.6" class="tk" text-anchor="middle">20</text>
<line x1="18.57" x2="20.57" y1="399.49" y2="399.49" stroke="#222" stroke-width="0.5"/>
<text x="17.37" y="401.49" font-size="5.6" class="tk" text-anchor="end"><tspan letter-spacing="0.7">&#8722;</tspan>2</text>
<line x1="18.57" x2="20.57" y1="377.77" y2="377.77" stroke="#222" stroke-width="0.5"/>
<text x="17.37" y="379.77" font-size="5.6" class="tk" text-anchor="end"><tspan letter-spacing="0.7">&#8722;</tspan>1</text>
<line x1="18.57" x2="20.57" y1="356.05" y2="356.05" stroke="#222" stroke-width="0.5"/>
<text x="17.37" y="358.05" font-size="5.6" class="tk" text-anchor="end">0</text>
<line x1="18.57" x2="20.57" y1="334.33" y2="334.33" stroke="#222" stroke-width="0.5"/>
<text x="17.37" y="336.33" font-size="5.6" class="tk" text-anchor="end">1</text>
<line x1="18.57" x2="20.57" y1="312.61" y2="312.61" stroke="#222" stroke-width="0.5"/>
<text x="17.37" y="314.61" font-size="5.6" class="tk" text-anchor="end">2</text>
<text class="xl" x="72.57" y="433.02" font-size="6.5" text-anchor="middle">&#916;<tspan font-style="italic">Z</tspan><tspan font-style="italic" font-size="70%" dy="1.2">e</tspan><tspan dy="-1.2">(</tspan><tspan font-style="italic">below &#8722; above</tspan>) [dBZ km<tspan font-size="70%" dy="-2">&#8722;1</tspan><tspan dy="2">]</tspan></text>
<text class="yl" transform="translate(10.87,359.18) rotate(-90)" font-size="6.5" text-anchor="middle">&#916;<tspan font-style="italic">MDV</tspan>(<tspan font-style="italic">below &#8722; above</tspan>) [m s<tspan font-size="70%" dy="-2">&#8722;1</tspan><tspan dy="2"> km</tspan><tspan font-size="70%" dy="-2">&#8722;1</tspan><tspan dy="2">]</tspan></text>
<text class="ttl" x="20.77" y="301.15" font-size="6.5">(g) KAZR <tspan font-style="italic">Z</tspan><tspan font-style="italic" font-size="70%" dy="1.2">e</tspan><tspan dy="-1.2"> vs. </tspan><tspan font-style="italic">MDV</tspan> (color: &#916;<tspan font-style="italic">K</tspan><tspan font-style="italic" font-size="70%" dy="1.2">DP</tspan><tspan dy="-1.2"> (below-above)</tspan>)</text>
<rect x="130.92" y="304.15" width="5.7" height="112.27" fill="url(#jet)"/>
<rect x="130.92" y="304.15" width="5.7" height="112.27" fill="none" stroke="#444" stroke-width="0.4"/>
<line x1="136.62" x2="138.62" y1="416.42" y2="416.42" stroke="#222" stroke-width="0.5"/>
<text class="tk" x="140.12" y="418.42" font-size="5.6"><tspan letter-spacing="0.7">&#8722;</tspan>1.00</text>
<line x1="136.62" x2="138.62" y1="402.39" y2="402.39" stroke="#222" stroke-width="0.5"/>
<text class="tk" x="140.12" y="404.39" font-size="5.6"><tspan letter-spacing="0.7">&#8722;</tspan>0.75</text>
<line x1="136.62" x2="138.62" y1="388.35" y2="388.35" stroke="#222" stroke-width="0.5"/>
<text class="tk" x="140.12" y="390.35" font-size="5.6"><tspan letter-spacing="0.7">&#8722;</tspan>0.50</text>
<line x1="136.62" x2="138.62" y1="374.32" y2="374.32" stroke="#222" stroke-width="0.5"/>
<text class="tk" x="140.12" y="376.32" font-size="5.6"><tspan letter-spacing="0.7">&#8722;</tspan>0.25</text>
<line x1="136.62" x2="138.62" y1="360.28" y2="360.28" stroke="#222" stroke-width="0.5"/>
<text class="tk" x="140.12" y="362.28" font-size="5.6">0.00</text>
<line x1="136.62" x2="138.62" y1="346.25" y2="346.25" stroke="#222" stroke-width="0.5"/>
<text class="tk" x="140.12" y="348.25" font-size="5.6">0.25</text>
<line x1="136.62" x2="138.62" y1="332.22" y2="332.22" stroke="#222" stroke-width="0.5"/>
<text class="tk" x="140.12" y="334.22" font-size="5.6">0.50</text>
<line x1="136.62" x2="138.62" y1="318.18" y2="318.18" stroke="#222" stroke-width="0.5"/>
<text class="tk" x="140.12" y="320.18" font-size="5.6">0.75</text>
<line x1="136.62" x2="138.62" y1="304.15" y2="304.15" stroke="#222" stroke-width="0.5"/>
<text class="tk" x="140.12" y="306.15" font-size="5.6">1.00</text>
<text class="cl" transform="translate(164.62,360.28) rotate(-90)" font-size="6.5" text-anchor="middle">&#916;<tspan font-style="italic">K</tspan><tspan font-style="italic" font-size="70%" dy="1.2">DP</tspan><tspan dy="-1.2"> (below-above) [&#176; km</tspan><tspan font-size="70%" dy="-2">&#8722;1</tspan><tspan dy="2">]</tspan></text>
</g>
<g>
<rect x="226.39" y="314.92" width="7.36" height="7.25" fill="#3effb9"/>
<rect x="233.76" y="322.17" width="7.36" height="7.75" fill="#000096"/>
<rect x="211.66" y="329.42" width="7.86" height="7.75" fill="#0000ff"/>
<rect x="219.03" y="329.42" width="7.86" height="7.75" fill="#00d7ff"/>
<rect x="226.39" y="329.42" width="7.86" height="7.75" fill="#0003ff"/>
<rect x="233.76" y="329.42" width="7.86" height="7.75" fill="#00adff"/>
<rect x="241.12" y="329.42" width="7.86" height="7.75" fill="#002bff"/>
<rect x="248.48" y="329.42" width="7.36" height="7.75" fill="#00e6f6"/>
<rect x="211.66" y="336.67" width="7.86" height="7.75" fill="#0003ff"/>
<rect x="219.03" y="336.67" width="7.86" height="7.75" fill="#005dff"/>
<rect x="226.39" y="336.67" width="7.86" height="7.75" fill="#d10000"/>
<rect x="233.76" y="336.67" width="7.86" height="7.75" fill="#ff8200"/>
<rect x="241.12" y="336.67" width="7.86" height="7.75" fill="#00adff"/>
<rect x="248.48" y="336.67" width="7.86" height="7.75" fill="#0067ff"/>
<rect x="255.85" y="336.67" width="7.86" height="7.75" fill="#0000a2"/>
<rect x="263.21" y="336.67" width="7.36" height="7.75" fill="#0000e6"/>
<rect x="204.3" y="343.92" width="7.86" height="7.75" fill="#0000cf"/>
<rect x="211.66" y="343.92" width="7.86" height="7.75" fill="#0000fd"/>
<rect x="219.03" y="343.92" width="7.86" height="7.75" fill="#003fff"/>
<rect x="226.39" y="343.92" width="7.86" height="7.75" fill="#ff9600"/>
<rect x="233.76" y="343.92" width="7.86" height="7.75" fill="#12fce5"/>
<rect x="241.12" y="343.92" width="7.86" height="7.75" fill="#007bff"/>
<rect x="248.48" y="343.92" width="7.86" height="7.75" fill="#0000ff"/>
<rect x="255.85" y="343.92" width="7.86" height="7.75" fill="#003fff"/>
<rect x="263.21" y="343.92" width="7.36" height="7.75" fill="#0000fd"/>
<rect x="204.3" y="351.17" width="7.86" height="7.75" fill="#00008b"/>
<rect x="211.66" y="351.17" width="7.86" height="7.75" fill="#0000db"/>
<rect x="219.03" y="351.17" width="7.86" height="7.75" fill="#0035ff"/>
<rect x="226.39" y="351.17" width="7.86" height="7.75" fill="#ffe500"/>
<rect x="233.76" y="351.17" width="7.86" height="7.75" fill="#0049ff"/>
<rect x="241.12" y="351.17" width="7.86" height="7.75" fill="#003fff"/>
<rect x="248.48" y="351.17" width="7.86" height="7.75" fill="#0035ff"/>
<rect x="255.85" y="351.17" width="7.86" height="7.75" fill="#0000a2"/>
<rect x="263.21" y="351.17" width="7.86" height="7.75" fill="#0000ad"/>
<rect x="270.58" y="351.17" width="7.36" height="7.75" fill="#0000f1"/>
<rect x="196.93" y="358.42" width="7.86" height="7.25" fill="#0000e6"/>
<rect x="204.3" y="358.42" width="7.86" height="7.75" fill="#0000cf"/>
<rect x="211.66" y="358.42" width="7.86" height="7.75" fill="#003fff"/>
<rect x="219.03" y="358.42" width="7.86" height="7.75" fill="#0071ff"/>
<rect x="226.39" y="358.42" width="7.86" height="7.75" fill="#12fce5"/>
<rect x="233.76" y="358.42" width="7.86" height="7.75" fill="#00c6ff"/>
<rect x="241.12" y="358.42" width="7.86" height="7.75" fill="#002bff"/>
<rect x="248.48" y="358.42" width="7.86" height="7.75" fill="#0035ff"/>
<rect x="255.85" y="358.42" width="7.86" height="7.75" fill="#0000e6"/>
<rect x="263.21" y="358.42" width="7.86" height="7.75" fill="#00c6ff"/>
<rect x="270.58" y="358.42" width="7.36" height="7.25" fill="#002bff"/>
<rect x="204.3" y="365.67" width="7.86" height="7.25" fill="#00008b"/>
<rect x="211.66" y="365.67" width="7.86" height="7.75" fill="#0099ff"/>
<rect x="219.03" y="365.67" width="7.86" height="7.75" fill="#29ffce"/>
<rect x="226.39" y="365.67" width="7.86" height="7.75" fill="#0099ff"/>
<rect x="233.76" y="365.67" width="7.86" height="7.75" fill="#002bff"/>
<rect x="241.12" y="365.67" width="7.86" height="7.75" fill="#0035ff"/>
<rect x="248.48" y="365.67" width="7.86" height="7.75" fill="#0021ff"/>
<rect x="255.85" y="365.67" width="7.86" height="7.75" fill="#0000e6"/>
<rect x="263.21" y="365.67" width="7.36" height="7.25" fill="#0000c4"/>
<rect x="211.66" y="372.92" width="7.86" height="7.25" fill="#0000ff"/>
<rect x="219.03" y="372.92" width="7.86" height="7.75" fill="#0035ff"/>
<rect x="226.39" y="372.92" width="7.86" height="7.75" fill="#06edf1"/>
<rect x="233.76" y="372.92" width="7.86" height="7.75" fill="#002bff"/>
<rect x="241.12" y="372.92" width="7.86" height="7.75" fill="#003fff"/>
<rect x="248.48" y="372.92" width="7.86" height="7.75" fill="#0053ff"/>
<rect x="255.85" y="372.92" width="7.36" height="7.25" fill="#0000fd"/>
<rect x="219.03" y="380.17" width="7.86" height="7.25" fill="#008fff"/>
<rect x="226.39" y="380.17" width="7.86" height="7.75" fill="#00a3ff"/>
<rect x="233.76" y="380.17" width="7.86" height="7.75" fill="#000dff"/>
<rect x="241.12" y="380.17" width="7.86" height="7.75" fill="#005dff"/>
<rect x="248.48" y="380.17" width="7.36" height="7.25" fill="#0000f1"/>
<rect x="211.66" y="387.42" width="7.36" height="7.25" fill="#00008b"/>
<rect x="226.39" y="387.42" width="7.86" height="7.75" fill="#0099ff"/>
<rect x="233.76" y="387.42" width="7.86" height="7.25" fill="#000dff"/>
<rect x="241.12" y="387.42" width="7.36" height="7.25" fill="#0003ff"/>
<rect x="219.03" y="394.67" width="7.86" height="7.25" fill="#0000ff"/>
<rect x="226.39" y="394.67" width="7.36" height="7.75" fill="#ff6400"/>
<rect x="226.39" y="401.92" width="7.36" height="7.25" fill="#0099ff"/>
<line x1="195.97" x2="195.97" y1="304.15" y2="416.42" stroke="#b0b0b0" stroke-width="0.48"/>
<line x1="247.47" x2="247.47" y1="304.15" y2="416.42" stroke="#b0b0b0" stroke-width="0.48"/>
<line x1="273.22" x2="273.22" y1="304.15" y2="416.42" stroke="#b0b0b0" stroke-width="0.48"/>
<line x1="189.57" x2="292.67" y1="399.49" y2="399.49" stroke="#b0b0b0" stroke-width="0.48"/>
<line x1="189.57" x2="292.67" y1="377.77" y2="377.77" stroke="#b0b0b0" stroke-width="0.48"/>
<line x1="189.57" x2="292.67" y1="334.33" y2="334.33" stroke="#b0b0b0" stroke-width="0.48"/>
<line x1="189.57" x2="292.67" y1="312.61" y2="312.61" stroke="#b0b0b0" stroke-width="0.48"/>
<rect x="194.43" y="323" width="10.7" height="9.9" fill="#d8d8d8"/>
<text x="199.93" y="329.75" font-size="6.4" font-weight="bold" text-anchor="middle" fill="#111" class="ql">III</text>
<rect x="276.13" y="323" width="8.5" height="9.9" fill="#d8d8d8"/>
<text x="280.53" y="329.75" font-size="6.4" font-weight="bold" text-anchor="middle" fill="#111" class="ql">II</text>
<rect x="194.43" y="392.45" width="10.7" height="9.9" fill="#d8d8d8"/>
<text x="199.93" y="399.2" font-size="6.4" font-weight="bold" text-anchor="middle" fill="#111" class="ql">IV</text>
<rect x="276.98" y="392.65" width="6.4" height="9.9" fill="#d8d8d8"/>
<text x="280.33" y="399.4" font-size="6.4" font-weight="bold" text-anchor="middle" fill="#111" class="ql">I</text>
<line x1="221.72" x2="221.72" y1="304.15" y2="416.42" stroke="#000" stroke-opacity="0.8" stroke-width="1.0"/>
<line x1="189.57" x2="292.67" y1="356.1" y2="356.1" stroke="#000" stroke-opacity="0.8" stroke-width="1.0"/>
<rect x="189.57" y="304.15" width="103.1" height="112.3" fill="none" stroke="#4a4a4a" stroke-width="0.6"/>
<line x1="195.97" x2="195.97" y1="416.42" y2="418.42" stroke="#222" stroke-width="0.5"/>
<text x="196.12" y="424.42" font-size="5.6" class="tk" text-anchor="middle"><tspan letter-spacing="0.7">&#8722;</tspan>10</text>
<line x1="221.72" x2="221.72" y1="416.42" y2="418.42" stroke="#222" stroke-width="0.5"/>
<text x="221.87" y="424.42" font-size="5.6" class="tk" text-anchor="middle">0</text>
<line x1="247.47" x2="247.47" y1="416.42" y2="418.42" stroke="#222" stroke-width="0.5"/>
<text x="247.62" y="424.42" font-size="5.6" class="tk" text-anchor="middle">10</text>
<line x1="273.22" x2="273.22" y1="416.42" y2="418.42" stroke="#222" stroke-width="0.5"/>
<text x="273.37" y="424.42" font-size="5.6" class="tk" text-anchor="middle">20</text>
<line x1="187.57" x2="189.57" y1="399.49" y2="399.49" stroke="#222" stroke-width="0.5"/>
<text x="186.37" y="401.49" font-size="5.6" class="tk" text-anchor="end"><tspan letter-spacing="0.7">&#8722;</tspan>2</text>
<line x1="187.57" x2="189.57" y1="377.77" y2="377.77" stroke="#222" stroke-width="0.5"/>
<text x="186.37" y="379.77" font-size="5.6" class="tk" text-anchor="end"><tspan letter-spacing="0.7">&#8722;</tspan>1</text>
<line x1="187.57" x2="189.57" y1="356.05" y2="356.05" stroke="#222" stroke-width="0.5"/>
<text x="186.37" y="358.05" font-size="5.6" class="tk" text-anchor="end">0</text>
<line x1="187.57" x2="189.57" y1="334.33" y2="334.33" stroke="#222" stroke-width="0.5"/>
<text x="186.37" y="336.33" font-size="5.6" class="tk" text-anchor="end">1</text>
<line x1="187.57" x2="189.57" y1="312.61" y2="312.61" stroke="#222" stroke-width="0.5"/>
<text x="186.37" y="314.61" font-size="5.6" class="tk" text-anchor="end">2</text>
<text class="xl" x="241.12" y="433.02" font-size="6.5" text-anchor="middle">&#916;<tspan font-style="italic">Z</tspan><tspan font-style="italic" font-size="70%" dy="1.2">e</tspan><tspan dy="-1.2">(</tspan><tspan font-style="italic">below &#8722; above</tspan>) [dBZ km<tspan font-size="70%" dy="-2">&#8722;1</tspan><tspan dy="2">]</tspan></text>
<text class="yl" transform="translate(179.87,359.18) rotate(-90)" font-size="6.5" text-anchor="middle">&#916;<tspan font-style="italic">MDV</tspan>(<tspan font-style="italic">below &#8722; above</tspan>) [m s<tspan font-size="70%" dy="-2">&#8722;1</tspan><tspan dy="2"> km</tspan><tspan font-size="70%" dy="-2">&#8722;1</tspan><tspan dy="2">]</tspan></text>
<text class="ttl" x="189.77" y="301.15" font-size="6.5">(h) KAZR <tspan font-style="italic">Z</tspan><tspan font-style="italic" font-size="70%" dy="1.2">e</tspan><tspan dy="-1.2"> vs. </tspan><tspan font-style="italic">MDV</tspan> (color: VISSS <tspan font-style="italic">N</tspan><tspan font-style="italic" font-size="70%" dy="1.2">tot</tspan><tspan dy="-1.2">)</tspan></text>
<rect x="299.02" y="304.15" width="5.7" height="112.27" fill="url(#jet)"/>
<rect x="299.02" y="304.15" width="5.7" height="112.27" fill="none" stroke="#444" stroke-width="0.4"/>
<line x1="304.72" x2="306.72" y1="416.42" y2="416.42" stroke="#222" stroke-width="0.5"/>
<text class="tk" x="308.22" y="418.42" font-size="5.6">1</text>
<line x1="304.72" x2="306.72" y1="403.95" y2="403.95" stroke="#222" stroke-width="0.5"/>
<text class="tk" x="308.22" y="405.95" font-size="5.6">2</text>
<line x1="304.72" x2="306.72" y1="391.47" y2="391.47" stroke="#222" stroke-width="0.5"/>
<text class="tk" x="308.22" y="393.47" font-size="5.6">3</text>
<line x1="304.72" x2="306.72" y1="379" y2="379" stroke="#222" stroke-width="0.5"/>
<text class="tk" x="308.22" y="381" font-size="5.6">4</text>
<line x1="304.72" x2="306.72" y1="366.52" y2="366.52" stroke="#222" stroke-width="0.5"/>
<text class="tk" x="308.22" y="368.52" font-size="5.6">5</text>
<line x1="304.72" x2="306.72" y1="354.05" y2="354.05" stroke="#222" stroke-width="0.5"/>
<text class="tk" x="308.22" y="356.05" font-size="5.6">6</text>
<line x1="304.72" x2="306.72" y1="341.57" y2="341.57" stroke="#222" stroke-width="0.5"/>
<text class="tk" x="308.22" y="343.57" font-size="5.6">7</text>
<line x1="304.72" x2="306.72" y1="329.1" y2="329.1" stroke="#222" stroke-width="0.5"/>
<text class="tk" x="308.22" y="331.1" font-size="5.6">8</text>
<line x1="304.72" x2="306.72" y1="316.62" y2="316.62" stroke="#222" stroke-width="0.5"/>
<text class="tk" x="308.22" y="318.62" font-size="5.6">9</text>
<line x1="304.72" x2="306.72" y1="304.15" y2="304.15" stroke="#222" stroke-width="0.5"/>
<text class="tk" x="308.22" y="306.15" font-size="5.6">10</text>
<text class="cl" transform="translate(322.72,360.28) rotate(-90)" font-size="6.5" text-anchor="middle">VISSS <tspan font-style="italic">N</tspan><tspan font-style="italic" font-size="70%" dy="1.2">tot</tspan><tspan dy="-1.2"> [l</tspan><tspan font-size="70%" dy="-2">&#8722;1</tspan><tspan dy="2">]</tspan></text>
</g>
<g>
<rect x="394.64" y="314.92" width="7.43" height="7.25" fill="#000096"/>
<rect x="402.07" y="322.17" width="7.43" height="7.75" fill="#0000b8"/>
<rect x="379.79" y="329.42" width="7.93" height="7.75" fill="#0000c4"/>
<rect x="387.21" y="329.42" width="7.93" height="7.75" fill="#000096"/>
<rect x="394.64" y="329.42" width="7.93" height="7.75" fill="#00adff"/>
<rect x="402.07" y="329.42" width="7.93" height="7.75" fill="#0067ff"/>
<rect x="409.5" y="329.42" width="7.93" height="7.75" fill="#0035ff"/>
<rect x="416.93" y="329.42" width="7.43" height="7.75" fill="#00008b"/>
<rect x="379.79" y="336.67" width="7.93" height="7.75" fill="#0035ff"/>
<rect x="387.21" y="336.67" width="7.93" height="7.75" fill="#29ffce"/>
<rect x="394.64" y="336.67" width="7.93" height="7.75" fill="#60ff97"/>
<rect x="402.07" y="336.67" width="7.93" height="7.75" fill="#82ff75"/>
<rect x="409.5" y="336.67" width="7.93" height="7.75" fill="#82ff75"/>
<rect x="416.93" y="336.67" width="7.93" height="7.75" fill="#005dff"/>
<rect x="424.36" y="336.67" width="7.93" height="7.75" fill="#00008b"/>
<rect x="431.79" y="336.67" width="7.43" height="7.75" fill="#0000b8"/>
<rect x="372.36" y="343.92" width="7.93" height="7.75" fill="#0003ff"/>
<rect x="379.79" y="343.92" width="7.93" height="7.75" fill="#00cfff"/>
<rect x="387.21" y="343.92" width="7.93" height="7.75" fill="#ffbe00"/>
<rect x="394.64" y="343.92" width="7.93" height="7.75" fill="#ff9600"/>
<rect x="402.07" y="343.92" width="7.93" height="7.75" fill="#ff9600"/>
<rect x="409.5" y="343.92" width="7.93" height="7.75" fill="#8fff68"/>
<rect x="416.93" y="343.92" width="7.93" height="7.75" fill="#0099ff"/>
<rect x="424.36" y="343.92" width="7.93" height="7.75" fill="#44ffb3"/>
<rect x="431.79" y="343.92" width="7.43" height="7.75" fill="#007bff"/>
<rect x="372.36" y="351.17" width="7.93" height="7.75" fill="#00adff"/>
<rect x="379.79" y="351.17" width="7.93" height="7.75" fill="#44ffb3"/>
<rect x="387.21" y="351.17" width="7.93" height="7.75" fill="#ffa000"/>
<rect x="394.64" y="351.17" width="7.93" height="7.75" fill="#dc0000"/>
<rect x="402.07" y="351.17" width="7.93" height="7.75" fill="#ff6400"/>
<rect x="409.5" y="351.17" width="7.93" height="7.75" fill="#ffbe00"/>
<rect x="416.93" y="351.17" width="7.93" height="7.75" fill="#b7ff3f"/>
<rect x="424.36" y="351.17" width="7.93" height="7.75" fill="#44ffb3"/>
<rect x="431.79" y="351.17" width="7.93" height="7.75" fill="#0035ff"/>
<rect x="439.21" y="351.17" width="7.43" height="7.75" fill="#00008b"/>
<rect x="364.93" y="358.42" width="7.93" height="7.25" fill="#000096"/>
<rect x="372.36" y="358.42" width="7.93" height="7.75" fill="#0000e6"/>
<rect x="379.79" y="358.42" width="7.93" height="7.75" fill="#44ffb3"/>
<rect x="387.21" y="358.42" width="7.93" height="7.75" fill="#ffaa00"/>
<rect x="394.64" y="358.42" width="7.93" height="7.75" fill="#970000"/>
<rect x="402.07" y="358.42" width="7.93" height="7.75" fill="#f30900"/>
<rect x="409.5" y="358.42" width="7.93" height="7.75" fill="#ff7800"/>
<rect x="416.93" y="358.42" width="7.93" height="7.75" fill="#ffdc00"/>
<rect x="424.36" y="358.42" width="7.93" height="7.75" fill="#50ffa7"/>
<rect x="431.79" y="358.42" width="7.93" height="7.75" fill="#12fce5"/>
<rect x="439.21" y="358.42" width="7.43" height="7.25" fill="#0000cf"/>
<rect x="372.36" y="365.67" width="7.93" height="7.25" fill="#000dff"/>
<rect x="379.79" y="365.67" width="7.93" height="7.75" fill="#0000a2"/>
<rect x="387.21" y="365.67" width="7.93" height="7.75" fill="#eaff0d"/>
<rect x="394.64" y="365.67" width="7.93" height="7.75" fill="#dc0000"/>
<rect x="402.07" y="365.67" width="7.93" height="7.75" fill="#ff3c00"/>
<rect x="409.5" y="365.67" width="7.93" height="7.75" fill="#ffb400"/>
<rect x="416.93" y="365.67" width="7.93" height="7.75" fill="#beff38"/>
<rect x="424.36" y="365.67" width="7.93" height="7.75" fill="#50ffa7"/>
<rect x="431.79" y="365.67" width="7.43" height="7.25" fill="#0099ff"/>
<rect x="379.79" y="372.92" width="7.93" height="7.25" fill="#0017ff"/>
<rect x="387.21" y="372.92" width="7.93" height="7.75" fill="#99ff5e"/>
<rect x="394.64" y="372.92" width="7.93" height="7.75" fill="#ff4600"/>
<rect x="402.07" y="372.92" width="7.93" height="7.75" fill="#eaff0d"/>
<rect x="409.5" y="372.92" width="7.93" height="7.75" fill="#dcff1a"/>
<rect x="416.93" y="372.92" width="7.93" height="7.75" fill="#73ff84"/>
<rect x="424.36" y="372.92" width="7.43" height="7.25" fill="#0017ff"/>
<rect x="387.21" y="380.17" width="7.93" height="7.25" fill="#44ffb3"/>
<rect x="394.64" y="380.17" width="7.93" height="7.75" fill="#f7f600"/>
<rect x="402.07" y="380.17" width="7.93" height="7.75" fill="#b7ff3f"/>
<rect x="409.5" y="380.17" width="7.93" height="7.75" fill="#50ffa7"/>
<rect x="416.93" y="380.17" width="7.43" height="7.25" fill="#0017ff"/>
<rect x="379.79" y="387.42" width="7.43" height="7.25" fill="#000096"/>
<rect x="394.64" y="387.42" width="7.93" height="7.75" fill="#37ffc0"/>
<rect x="402.07" y="387.42" width="7.93" height="7.25" fill="#0099ff"/>
<rect x="409.5" y="387.42" width="7.43" height="7.25" fill="#0017ff"/>
<rect x="387.21" y="394.67" width="7.93" height="7.25" fill="#000096"/>
<rect x="394.64" y="394.67" width="7.43" height="7.75" fill="#0000a2"/>
<rect x="394.64" y="401.92" width="7.43" height="7.25" fill="#0000cf"/>
<line x1="364.55" x2="364.55" y1="304.15" y2="416.42" stroke="#b0b0b0" stroke-width="0.48"/>
<line x1="416.55" x2="416.55" y1="304.15" y2="416.42" stroke="#b0b0b0" stroke-width="0.48"/>
<line x1="442.55" x2="442.55" y1="304.15" y2="416.42" stroke="#b0b0b0" stroke-width="0.48"/>
<line x1="357.5" x2="461.5" y1="399.49" y2="399.49" stroke="#b0b0b0" stroke-width="0.48"/>
<line x1="357.5" x2="461.5" y1="377.77" y2="377.77" stroke="#b0b0b0" stroke-width="0.48"/>
<line x1="357.5" x2="461.5" y1="334.33" y2="334.33" stroke="#b0b0b0" stroke-width="0.48"/>
<line x1="357.5" x2="461.5" y1="312.61" y2="312.61" stroke="#b0b0b0" stroke-width="0.48"/>
<rect x="362.45" y="323" width="10.7" height="9.9" fill="#d8d8d8"/>
<text x="367.95" y="329.75" font-size="6.4" font-weight="bold" text-anchor="middle" fill="#111" class="ql">III</text>
<rect x="444.85" y="323" width="8.5" height="9.9" fill="#d8d8d8"/>
<text x="449.25" y="329.75" font-size="6.4" font-weight="bold" text-anchor="middle" fill="#111" class="ql">II</text>
<rect x="362.45" y="392.45" width="10.7" height="9.9" fill="#d8d8d8"/>
<text x="367.95" y="399.2" font-size="6.4" font-weight="bold" text-anchor="middle" fill="#111" class="ql">IV</text>
<rect x="445.7" y="392.65" width="6.4" height="9.9" fill="#d8d8d8"/>
<text x="449.05" y="399.4" font-size="6.4" font-weight="bold" text-anchor="middle" fill="#111" class="ql">I</text>
<line x1="390.55" x2="390.55" y1="304.15" y2="416.42" stroke="#000" stroke-opacity="0.8" stroke-width="1.0"/>
<line x1="357.5" x2="461.5" y1="356.1" y2="356.1" stroke="#000" stroke-opacity="0.8" stroke-width="1.0"/>
<rect x="357.5" y="304.15" width="104" height="112.3" fill="none" stroke="#4a4a4a" stroke-width="0.6"/>
<line x1="364.55" x2="364.55" y1="416.42" y2="418.42" stroke="#222" stroke-width="0.5"/>
<text x="364.7" y="424.42" font-size="5.6" class="tk" text-anchor="middle"><tspan letter-spacing="0.7">&#8722;</tspan>10</text>
<line x1="390.55" x2="390.55" y1="416.42" y2="418.42" stroke="#222" stroke-width="0.5"/>
<text x="390.7" y="424.42" font-size="5.6" class="tk" text-anchor="middle">0</text>
<line x1="416.55" x2="416.55" y1="416.42" y2="418.42" stroke="#222" stroke-width="0.5"/>
<text x="416.7" y="424.42" font-size="5.6" class="tk" text-anchor="middle">10</text>
<line x1="442.55" x2="442.55" y1="416.42" y2="418.42" stroke="#222" stroke-width="0.5"/>
<text x="442.7" y="424.42" font-size="5.6" class="tk" text-anchor="middle">20</text>
<line x1="355.5" x2="357.5" y1="399.49" y2="399.49" stroke="#222" stroke-width="0.5"/>
<text x="354.3" y="401.49" font-size="5.6" class="tk" text-anchor="end"><tspan letter-spacing="0.7">&#8722;</tspan>2</text>
<line x1="355.5" x2="357.5" y1="377.77" y2="377.77" stroke="#222" stroke-width="0.5"/>
<text x="354.3" y="379.77" font-size="5.6" class="tk" text-anchor="end"><tspan letter-spacing="0.7">&#8722;</tspan>1</text>
<line x1="355.5" x2="357.5" y1="356.05" y2="356.05" stroke="#222" stroke-width="0.5"/>
<text x="354.3" y="358.05" font-size="5.6" class="tk" text-anchor="end">0</text>
<line x1="355.5" x2="357.5" y1="334.33" y2="334.33" stroke="#222" stroke-width="0.5"/>
<text x="354.3" y="336.33" font-size="5.6" class="tk" text-anchor="end">1</text>
<line x1="355.5" x2="357.5" y1="312.61" y2="312.61" stroke="#222" stroke-width="0.5"/>
<text x="354.3" y="314.61" font-size="5.6" class="tk" text-anchor="end">2</text>
<text class="xl" x="409.5" y="433.02" font-size="6.5" text-anchor="middle">&#916;<tspan font-style="italic">Z</tspan><tspan font-style="italic" font-size="70%" dy="1.2">e</tspan><tspan dy="-1.2">(</tspan><tspan font-style="italic">below &#8722; above</tspan>) [dBZ km<tspan font-size="70%" dy="-2">&#8722;1</tspan><tspan dy="2">]</tspan></text>
<text class="yl" transform="translate(347.8,359.18) rotate(-90)" font-size="6.5" text-anchor="middle">&#916;<tspan font-style="italic">MDV</tspan>(<tspan font-style="italic">below &#8722; above</tspan>) [m s<tspan font-size="70%" dy="-2">&#8722;1</tspan><tspan dy="2"> km</tspan><tspan font-size="70%" dy="-2">&#8722;1</tspan><tspan dy="2">]</tspan></text>
<text class="ttl" x="357.7" y="301.15" font-size="6.5">(i) KAZR <tspan font-style="italic">Z</tspan><tspan font-style="italic" font-size="70%" dy="1.2">e</tspan><tspan dy="-1.2"> vs. </tspan><tspan font-style="italic">MDV</tspan> (color: N datapoints)</text>
<rect x="467.85" y="304.15" width="5.7" height="112.27" fill="url(#jet)"/>
<rect x="467.85" y="304.15" width="5.7" height="112.27" fill="none" stroke="#444" stroke-width="0.4"/>
<line x1="473.55" x2="474.65" y1="415.87" y2="415.87" stroke="#222" stroke-width="0.4"/>
<line x1="473.55" x2="474.65" y1="408.26" y2="408.26" stroke="#222" stroke-width="0.4"/>
<line x1="473.55" x2="474.65" y1="402.05" y2="402.05" stroke="#222" stroke-width="0.4"/>
<line x1="473.55" x2="474.65" y1="396.8" y2="396.8" stroke="#222" stroke-width="0.4"/>
<line x1="473.55" x2="474.65" y1="392.25" y2="392.25" stroke="#222" stroke-width="0.4"/>
<line x1="473.55" x2="474.65" y1="388.24" y2="388.24" stroke="#222" stroke-width="0.4"/>
<line x1="473.55" x2="474.65" y1="361.03" y2="361.03" stroke="#222" stroke-width="0.4"/>
<line x1="473.55" x2="474.65" y1="347.21" y2="347.21" stroke="#222" stroke-width="0.4"/>
<line x1="473.55" x2="474.65" y1="337.41" y2="337.41" stroke="#222" stroke-width="0.4"/>
<line x1="473.55" x2="474.65" y1="329.81" y2="329.81" stroke="#222" stroke-width="0.4"/>
<line x1="473.55" x2="474.65" y1="323.6" y2="323.6" stroke="#222" stroke-width="0.4"/>
<line x1="473.55" x2="474.65" y1="318.34" y2="318.34" stroke="#222" stroke-width="0.4"/>
<line x1="473.55" x2="474.65" y1="313.79" y2="313.79" stroke="#222" stroke-width="0.4"/>
<line x1="473.55" x2="474.65" y1="309.78" y2="309.78" stroke="#222" stroke-width="0.4"/>
<line x1="473.55" x2="474.65" y1="306.19" y2="306.19" stroke="#222" stroke-width="0.4"/>
<line x1="473.55" x2="475.55" y1="384.65" y2="384.65" stroke="#222" stroke-width="0.5"/>
<text x="476.75" y="386.65" font-size="5.6">10<tspan font-size="70%" dy="-2.2">1</tspan></text>
<line x1="473.55" x2="475.55" y1="306.17" y2="306.17" stroke="#222" stroke-width="0.5"/>
<text x="476.75" y="308.17" font-size="5.6">10<tspan font-size="70%" dy="-2.2">2</tspan></text>
<text class="cl" transform="translate(492.15,360.28) rotate(-90)" font-size="6.5" text-anchor="middle">Abs. number of occurence</text>
</g>
</svg>
</body></html>
